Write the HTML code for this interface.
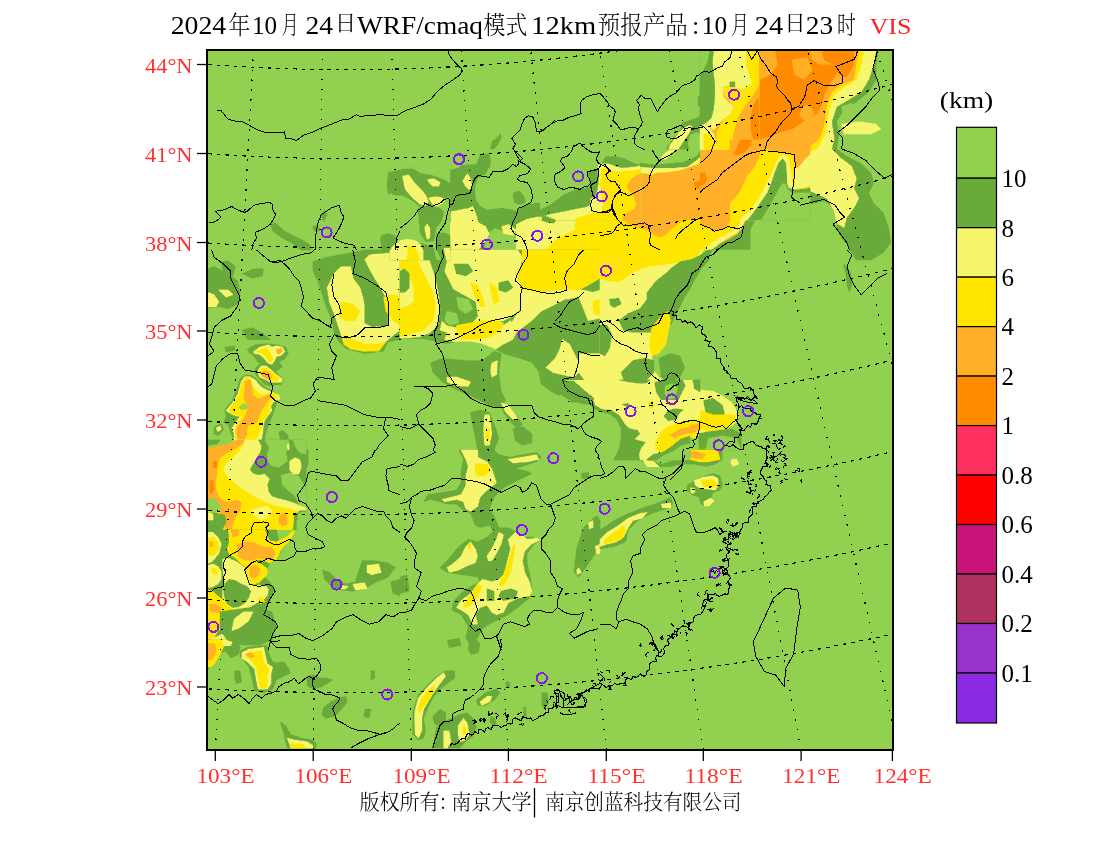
<!DOCTYPE html>
<html><head><meta charset="utf-8"><title>VIS</title>
<style>html,body{margin:0;padding:0;background:#fff;width:1100px;height:850px;overflow:hidden}svg{display:block}</style>
</head><body>
<svg width="1100" height="850" viewBox="0 0 1100 850">
<clipPath id="mc"><rect x="208" y="51" width="684" height="698"/></clipPath>
<rect x="207" y="50" width="686" height="700" fill="#92d050"/>
<g clip-path="url(#mc)" shape-rendering="crispEdges">
<polygon points="388.2,172.4 400.0,171.2 400.0,197.1 388.2,193.5 387.1,186.5" fill="#6aaa3a" stroke="#6aaa3a" stroke-width="0.6" stroke-linejoin="round"/>
<polygon points="270.6,224.1 275.3,222.9 284.7,231.2 294.1,235.9 303.5,240.6 310.6,245.3 310.6,250.0 301.2,250.0 291.8,242.9 282.4,238.2 272.9,231.2" fill="#6aaa3a" stroke="#6aaa3a" stroke-width="0.6" stroke-linejoin="round"/>
<polygon points="381.2,235.9 388.2,233.5 395.3,235.9 400.0,238.2 400.0,250.0 381.2,250.0" fill="#6aaa3a" stroke="#6aaa3a" stroke-width="0.6" stroke-linejoin="round"/>
<polygon points="321.2,214.7 324.7,210.0 327.1,214.7 323.5,221.8" fill="#6aaa3a" stroke="#6aaa3a" stroke-width="0.6" stroke-linejoin="round"/>
<polygon points="312.9,226.5 317.6,225.3 318.8,231.2 314.1,231.2" fill="#6aaa3a" stroke="#6aaa3a" stroke-width="0.6" stroke-linejoin="round"/>
<polygon points="391.8,245.3 400.0,242.9 400.0,250.0 391.8,250.0" fill="#f5f56e" stroke="#f5f56e" stroke-width="0.6" stroke-linejoin="round"/>
<polygon points="491.8,141.8 496.5,138.2 500.0,133.5 501.2,137.1 498.8,142.9 494.1,148.8 490.6,148.8" fill="#6aaa3a" stroke="#6aaa3a" stroke-width="0.6" stroke-linejoin="round"/>
<polygon points="481.2,155.9 488.2,153.5 490.6,160.6 489.4,167.6 482.4,165.3" fill="#6aaa3a" stroke="#6aaa3a" stroke-width="0.6" stroke-linejoin="round"/>
<polygon points="400.0,171.8 410.9,167.8 423.6,170.0 447.3,170.9 458.2,168.2 461.8,165.5 476.4,164.5 480.0,155.5 489.1,154.5 490.0,164.5 485.5,173.6 478.2,177.3 474.5,186.4 475.5,199.1 480.0,206.4 487.3,210.0 501.8,208.2 512.7,210.0 518.2,211.8 518.2,222.7 516.4,231.8 510.9,235.5 501.8,230.0 494.5,228.2 487.3,233.6 483.6,250.0 400.0,250.0" fill="#6aaa3a" stroke="#6aaa3a" stroke-width="0.6" stroke-linejoin="round"/>
<polygon points="518.2,210.0 527.3,204.5 541.8,202.7 554.5,197.3 567.3,191.8 581.8,188.2 590.9,182.7 600.0,180.9 600.0,215.5 581.8,217.3 563.6,215.5 549.1,217.3 541.8,219.1 527.3,222.7 518.2,226.4" fill="#6aaa3a" stroke="#6aaa3a" stroke-width="0.6" stroke-linejoin="round"/>
<polygon points="512.7,193.6 518.2,190.9 523.6,195.5 525.5,202.7 520.0,204.5 514.5,202.7" fill="#6aaa3a" stroke="#6aaa3a" stroke-width="0.6" stroke-linejoin="round"/>
<polygon points="403.6,175.5 410.9,175.5 418.2,180.9 423.6,191.8 425.5,199.1 421.8,202.7 414.5,200.9 407.3,195.5 403.6,186.4" fill="#f5f56e" stroke="#f5f56e" stroke-width="0.6" stroke-linejoin="round"/>
<polygon points="427.3,179.1 436.4,179.1 440.9,182.7 439.1,186.4 430.9,186.4 427.3,182.7" fill="#f5f56e" stroke="#f5f56e" stroke-width="0.6" stroke-linejoin="round"/>
<polygon points="462.7,180.9 467.3,173.6 470.9,179.1 471.8,186.4 469.1,190.0 465.5,186.4" fill="#f5f56e" stroke="#f5f56e" stroke-width="0.6" stroke-linejoin="round"/>
<polygon points="450.9,211.8 460.0,210.0 469.1,208.2 472.7,206.4 476.4,215.5 478.2,222.7 485.5,226.4 489.1,233.6 485.5,240.9 478.2,250.0 450.9,250.0 449.1,231.8 450.9,220.9" fill="#f5f56e" stroke="#f5f56e" stroke-width="0.6" stroke-linejoin="round"/>
<polygon points="423.6,226.4 429.1,224.5 430.0,237.3 425.5,240.9 423.6,235.5" fill="#f5f56e" stroke="#f5f56e" stroke-width="0.6" stroke-linejoin="round"/>
<polygon points="400.0,240.9 410.9,239.1 418.2,244.5 420.0,250.0 400.0,250.0" fill="#f5f56e" stroke="#f5f56e" stroke-width="0.6" stroke-linejoin="round"/>
<polygon points="501.8,226.4 509.1,224.5 516.4,230.0 512.7,235.5 503.6,233.6" fill="#f5f56e" stroke="#f5f56e" stroke-width="0.6" stroke-linejoin="round"/>
<polygon points="516.4,224.5 527.3,219.1 545.5,215.5 554.5,211.8 567.3,210.0 574.5,206.4 581.8,204.5 590.9,197.3 600.0,191.8 600.0,250.0 516.4,250.0" fill="#f5f56e" stroke="#f5f56e" stroke-width="0.6" stroke-linejoin="round"/>
<polygon points="576.4,219.1 587.3,217.3 600.0,216.4 600.0,250.0 545.5,250.0 554.5,240.9 563.6,235.5 574.5,230.0 578.2,224.5" fill="#ffe600" stroke="#ffe600" stroke-width="0.6" stroke-linejoin="round"/>
<polygon points="409.1,245.5 414.5,244.5 418.2,250.0 407.3,250.0" fill="#ffe600" stroke="#ffe600" stroke-width="0.6" stroke-linejoin="round"/>
<polygon points="682.4,122.9 689.4,120.6 696.5,118.2 700.0,115.9 700.0,150.0 665.9,150.0 670.6,141.8 676.5,134.7 681.2,127.6" fill="#6aaa3a" stroke="#6aaa3a" stroke-width="0.6" stroke-linejoin="round"/>
<polygon points="697.6,97.1 700.0,95.9 700.0,106.5 698.2,105.3" fill="#6aaa3a" stroke="#6aaa3a" stroke-width="0.6" stroke-linejoin="round"/>
<polygon points="678.8,132.4 684.7,127.6 689.4,125.3 691.8,126.5 689.4,132.4 684.7,139.4 680.0,146.5 677.6,150.0 668.2,150.0 670.6,144.1 675.3,138.2" fill="#f5f56e" stroke="#f5f56e" stroke-width="0.6" stroke-linejoin="round"/>
<polygon points="690.6,134.7 697.6,132.4 700.0,134.7 700.0,150.0 689.4,150.0 688.2,142.9" fill="#92d050" stroke="#92d050" stroke-width="0.6" stroke-linejoin="round"/>
<polygon points="700.0,50.0 800.0,50.0 800.0,150.0 700.0,150.0" fill="#ffaf28"/>
<polygon points="776.5,50.0 800.0,50.0 800.0,150.0 765.9,150.0 756.5,144.1 751.8,134.7 750.6,122.9 751.8,111.2 755.3,101.8 761.2,94.7 768.2,87.6 772.9,80.6 775.3,71.2 775.3,59.4" fill="#ff8c00" stroke="#ff8c00" stroke-width="0.6" stroke-linejoin="round"/>
<polygon points="790.6,70.0 796.5,67.6 800.0,68.8 800.0,78.2 792.9,78.2 789.4,74.7" fill="#ffaf28" stroke="#ffaf28" stroke-width="0.6" stroke-linejoin="round"/>
<polygon points="782.4,130.0 789.4,126.5 794.1,132.4 791.8,141.8 784.7,140.6" fill="#ffaf28" stroke="#ffaf28" stroke-width="0.6" stroke-linejoin="round"/>
<polygon points="744.7,50.0 765.9,50.0 765.9,61.8 764.7,73.5 761.2,82.9 756.5,88.8 751.8,97.1 747.1,102.9 741.2,111.2 737.6,118.2 735.3,126.5 732.9,134.7 731.8,150.0 717.6,150.0 716.5,132.4 723.5,120.6 729.4,114.7 732.9,106.5 729.4,99.4 725.9,97.1 722.4,88.8 728.2,86.5 735.3,87.6 742.4,85.3 744.7,79.4 745.9,67.6" fill="#ffe600" stroke="#ffe600" stroke-width="0.6" stroke-linejoin="round"/>
<polygon points="700.0,50.0 714.1,50.0 712.9,61.8 714.1,73.5 715.3,85.3 715.3,97.1 714.1,108.8 711.8,118.2 705.9,122.9 700.0,125.3" fill="#6aaa3a" stroke="#6aaa3a" stroke-width="0.6" stroke-linejoin="round"/>
<polygon points="700.0,50.0 709.4,50.0 707.1,61.8 702.4,71.2 700.0,73.5" fill="#92d050" stroke="#92d050" stroke-width="0.6" stroke-linejoin="round"/>
<polygon points="714.1,50.0 745.9,50.0 745.9,65.3 749.4,75.9 751.8,82.9 747.1,87.6 741.2,88.8 735.3,86.5 728.2,85.3 722.4,87.6 723.5,97.1 728.2,101.8 732.9,106.5 730.6,113.5 723.5,119.4 717.6,124.1 714.1,130.0 709.4,126.5 705.9,123.5 711.8,118.2 714.1,108.8 715.3,97.1 715.3,85.3 714.1,73.5 712.9,61.8" fill="#f5f56e" stroke="#f5f56e" stroke-width="0.6" stroke-linejoin="round"/>
<polygon points="730.0,81.8 734.7,81.8 734.7,86.5 730.0,86.5" fill="#6aaa3a" stroke="#6aaa3a" stroke-width="0.6" stroke-linejoin="round"/>
<polygon points="700.0,126.5 704.7,124.1 709.4,127.6 714.1,134.7 717.6,150.0 700.0,150.0" fill="#f5f56e" stroke="#f5f56e" stroke-width="0.6" stroke-linejoin="round"/>
<polygon points="703.5,134.7 709.4,132.4 714.1,139.4 716.5,150.0 704.7,150.0" fill="#ffe600" stroke="#ffe600" stroke-width="0.6" stroke-linejoin="round"/>
<polygon points="600.0,150.0 700.0,150.0 700.0,250.0 600.0,250.0" fill="#ffe600"/>
<polygon points="600.0,150.0 700.0,150.0 700.0,161.8 694.1,165.3 684.7,170.0 670.6,171.2 656.5,172.4 647.1,173.5 635.3,171.2 623.5,172.4 615.3,170.0 607.1,166.5 603.5,168.8 602.4,185.3 600.0,187.6" fill="#f5f56e" stroke="#f5f56e" stroke-width="0.6" stroke-linejoin="round"/>
<polygon points="600.0,150.0 700.0,150.0 700.0,157.1 694.1,161.8 687.1,166.5 675.3,167.6 661.2,167.6 651.8,167.6 641.2,166.5 629.4,167.6 617.6,166.5 609.4,164.1 603.5,165.3 600.0,167.6" fill="#6aaa3a" stroke="#6aaa3a" stroke-width="0.6" stroke-linejoin="round"/>
<polygon points="600.0,150.0 700.0,150.0 696.5,155.9 689.4,159.4 682.4,161.8 670.6,162.9 658.8,164.1 649.4,164.1 644.7,162.9 635.3,161.8 628.2,157.1 618.8,157.1 609.4,159.4 600.0,160.6" fill="#92d050" stroke="#92d050" stroke-width="0.6" stroke-linejoin="round"/>
<polygon points="661.2,157.1 665.9,152.4 670.6,150.0 675.3,150.0 670.6,154.7 665.9,159.4 662.4,159.4" fill="#f5f56e" stroke="#f5f56e" stroke-width="0.6" stroke-linejoin="round"/>
<polygon points="627.1,185.3 630.6,178.2 635.3,174.7 644.7,173.5 650.6,175.9 656.5,173.5 670.6,172.4 682.4,170.0 691.8,166.5 700.0,164.1 700.0,217.1 694.1,218.2 682.4,220.6 672.9,227.6 665.9,234.7 661.2,237.1 654.1,234.7 647.1,230.0 638.8,227.6 630.6,225.3 624.7,220.6 623.5,217.1 630.6,214.7 636.5,211.2 637.6,206.5 635.3,200.6 632.9,195.9 629.4,191.2" fill="#ffaf28" stroke="#ffaf28" stroke-width="0.6" stroke-linejoin="round"/>
<polygon points="694.1,182.9 700.0,180.6 700.0,188.8 695.3,187.6" fill="#ff8c00" stroke="#ff8c00" stroke-width="0.6" stroke-linejoin="round"/>
<polygon points="700.0,150.0 800.0,150.0 800.0,250.0 700.0,250.0" fill="#ffaf28"/>
<polygon points="758.8,150.0 782.4,150.0 782.4,157.1 776.5,164.1 771.8,173.5 767.1,184.1 761.2,192.4 755.3,199.4 749.4,206.5 744.7,213.5 741.2,220.6 737.6,226.5 731.8,232.4 723.5,235.9 715.3,240.6 709.4,245.3 704.7,250.0 700.0,250.0 700.0,225.3 707.1,227.1 715.3,231.2 723.5,228.8 728.2,225.3 730.6,220.6 731.8,213.5 731.8,205.3 734.1,198.2 738.8,191.2 743.5,185.3 744.7,177.1 748.2,172.4 755.3,167.6 758.8,161.8" fill="#ffe600" stroke="#ffe600" stroke-width="0.6" stroke-linejoin="round"/>
<polygon points="775.3,150.0 784.7,150.0 784.7,157.1 780.0,159.4 775.3,167.6 771.8,177.1 767.1,186.5 761.2,195.9 755.3,202.9 749.4,211.2 745.9,218.2 742.4,226.5 737.6,232.4 729.4,237.1 720.0,242.9 712.9,250.0 704.7,250.0 710.6,244.1 717.6,239.4 725.9,234.7 734.1,230.0 738.8,225.3 742.4,218.2 747.1,210.0 752.9,201.8 758.8,194.7 764.7,186.5 769.4,175.9 772.9,166.5 776.5,159.4" fill="#f5f56e" stroke="#f5f56e" stroke-width="0.6" stroke-linejoin="round"/>
<polygon points="780.0,159.4 782.4,158.2 784.7,160.6 786.5,170.0 785.9,180.6 787.1,188.8 791.8,190.6 800.0,190.6 800.0,250.0 711.8,250.0 720.0,244.1 729.4,239.4 737.6,234.7 742.4,228.8 745.9,220.6 749.4,212.4 755.3,204.1 761.2,197.1 767.1,188.8 771.8,179.4 775.3,168.8" fill="#6aaa3a" stroke="#6aaa3a" stroke-width="0.6" stroke-linejoin="round"/>
<polygon points="800.0,191.2 800.0,250.0 750.6,250.0 750.6,230.0 754.1,222.9 760.0,214.7 767.1,206.5 774.1,197.1 780.0,188.8 782.4,182.9 784.7,180.6 785.9,188.8 789.4,190.0" fill="#92d050" stroke="#92d050" stroke-width="0.6" stroke-linejoin="round"/>
<polygon points="784.7,150.0 800.0,150.0 800.0,188.8 791.8,189.4 788.2,187.6 787.6,173.5 787.1,161.8" fill="#f5f56e" stroke="#f5f56e" stroke-width="0.6" stroke-linejoin="round"/>
<polygon points="789.4,150.0 800.0,150.0 800.0,186.5 794.1,185.3 791.8,173.5 790.6,161.8" fill="#ffe600" stroke="#ffe600" stroke-width="0.6" stroke-linejoin="round"/>
<polygon points="794.1,150.0 800.0,150.0 800.0,167.6 796.5,164.1 795.3,155.9" fill="#ffaf28" stroke="#ffaf28" stroke-width="0.6" stroke-linejoin="round"/>
<polygon points="700.0,173.5 704.7,172.4 707.1,178.2 704.7,184.1 700.0,185.3" fill="#ff8c00" stroke="#ff8c00" stroke-width="0.6" stroke-linejoin="round"/>
<polygon points="800.0,50.0 877.6,50.0 876.5,59.4 870.6,73.5 868.2,87.6 863.5,99.4 856.5,108.8 847.1,118.2 837.6,130.0 836.5,141.8 840.0,151.2 854.1,160.6 865.9,167.6 875.3,177.1 880.0,191.2 884.7,200.6 889.4,214.7 892.0,228.8 892.0,250.0 837.6,250.0 835.3,228.8 830.6,214.7 821.2,200.6 809.4,193.5 800.0,191.2" fill="#6aaa3a" stroke="#6aaa3a" stroke-width="0.6" stroke-linejoin="round"/>
<polygon points="881.2,50.0 892.0,50.0 892.0,177.1 884.7,178.2 877.6,170.0 868.2,160.6 858.8,153.5 847.1,148.8 842.4,144.1 851.8,142.9 865.9,144.1 877.6,142.9 887.1,139.4 889.4,130.0 882.4,120.6 872.9,113.5 870.6,106.5 877.6,97.1 882.4,87.6 880.0,73.5" fill="#92d050" stroke="#92d050" stroke-width="0.6" stroke-linejoin="round"/>
<polygon points="800.0,191.2 809.4,193.5 821.2,200.6 830.6,214.7 835.3,228.8 837.6,250.0 800.0,250.0" fill="#92d050" stroke="#92d050" stroke-width="0.6" stroke-linejoin="round"/>
<polygon points="844.7,104.1 854.1,101.8 861.2,106.5 858.8,115.9 849.4,118.2 844.7,113.5" fill="#92d050" stroke="#92d050" stroke-width="0.6" stroke-linejoin="round"/>
<polygon points="800.0,50.0 858.8,50.0 861.2,64.1 860.0,78.2 854.1,90.0 844.7,97.1 835.3,104.1 832.9,120.6 830.6,132.4 832.9,144.1 835.3,153.5 844.7,160.6 851.8,167.6 858.8,181.8 856.5,195.9 854.1,210.0 851.8,219.4 847.1,228.8 840.0,228.8 837.6,214.7 830.6,200.6 818.8,193.5 807.1,188.8 800.0,188.8" fill="#f5f56e" stroke="#f5f56e" stroke-width="0.6" stroke-linejoin="round"/>
<polygon points="837.6,127.6 847.1,122.9 858.8,120.6 872.9,122.9 880.0,127.6 877.6,134.7 868.2,139.4 851.8,141.8 840.0,144.1" fill="#f5f56e" stroke="#f5f56e" stroke-width="0.6" stroke-linejoin="round"/>
<polygon points="800.0,50.0 857.6,50.0 856.5,64.1 851.8,80.6 842.4,90.0 835.3,97.1 832.9,111.2 828.2,125.3 830.6,139.4 832.9,158.2 842.4,167.6 847.1,181.8 842.4,188.8 830.6,191.2 823.5,186.5 814.1,184.1 800.0,184.1" fill="#ffe600" stroke="#ffe600" stroke-width="0.6" stroke-linejoin="round"/>
<polygon points="800.0,50.0 856.5,50.0 851.8,64.1 847.1,80.6 837.6,90.0 830.6,101.8 825.9,115.9 821.2,127.6 814.1,139.4 807.1,155.9 800.0,162.9" fill="#ffaf28" stroke="#ffaf28" stroke-width="0.6" stroke-linejoin="round"/>
<polygon points="807.1,50.0 854.1,50.0 856.5,57.1 847.1,64.1 837.6,68.8 842.4,78.2 835.3,87.6 832.9,101.8 830.6,113.5 825.9,120.6 814.1,122.9 804.7,120.6 800.0,115.9 800.0,78.2 804.7,64.1" fill="#ff8c00" stroke="#ff8c00" stroke-width="0.6" stroke-linejoin="round"/>
<polygon points="835.3,66.5 856.5,64.1 856.5,85.3 844.7,87.6 837.6,80.6" fill="#ffaf28" stroke="#ffaf28" stroke-width="0.6" stroke-linejoin="round"/>
<polygon points="312.9,261.8 327.1,257.1 341.2,254.7 352.9,252.4 364.7,250.0 400.0,250.0 400.0,339.4 388.2,341.8 383.5,351.2 364.7,353.5 345.9,348.8 338.8,341.8 334.1,332.4 331.8,320.6 327.1,308.8 322.4,294.7 317.6,280.6 312.9,271.2" fill="#6aaa3a" stroke="#6aaa3a" stroke-width="0.6" stroke-linejoin="round"/>
<polygon points="208.0,268.8 214.1,266.5 223.5,271.2 230.6,275.9 237.6,280.6 240.0,292.4 237.6,304.1 228.2,308.8 218.8,306.5 208.0,307.6" fill="#6aaa3a" stroke="#6aaa3a" stroke-width="0.6" stroke-linejoin="round"/>
<polygon points="221.2,261.8 228.2,260.6 235.3,266.5 232.9,275.9 223.5,273.5" fill="#6aaa3a" stroke="#6aaa3a" stroke-width="0.6" stroke-linejoin="round"/>
<polygon points="242.4,273.5 254.1,268.8 263.5,268.8 262.4,275.9 251.8,278.2" fill="#6aaa3a" stroke="#6aaa3a" stroke-width="0.6" stroke-linejoin="round"/>
<polygon points="242.4,330.0 251.8,327.6 261.2,332.4 270.6,339.4 268.2,344.1 258.8,341.8 247.1,339.4" fill="#6aaa3a" stroke="#6aaa3a" stroke-width="0.6" stroke-linejoin="round"/>
<polygon points="249.4,348.8 261.2,344.1 275.3,344.1 284.7,346.5 284.7,355.9 280.0,365.3 284.7,377.1 280.0,384.1 270.6,386.5 261.2,381.8 254.1,372.4 256.5,360.6" fill="#6aaa3a" stroke="#6aaa3a" stroke-width="0.6" stroke-linejoin="round"/>
<polygon points="235.3,381.8 247.1,374.7 261.2,372.4 270.6,381.8 275.3,391.2 282.4,398.2 280.0,405.3 270.6,410.0 268.2,421.8 270.6,438.2 275.3,450.0 225.9,450.0 214.1,438.2 214.1,424.1 223.5,414.7 225.9,402.9" fill="#6aaa3a" stroke="#6aaa3a" stroke-width="0.6" stroke-linejoin="round"/>
<polygon points="277.6,431.2 284.7,428.8 289.4,438.2 287.1,450.0 275.3,450.0" fill="#6aaa3a" stroke="#6aaa3a" stroke-width="0.6" stroke-linejoin="round"/>
<polygon points="327.1,287.6 334.1,273.5 341.2,266.5 350.6,266.5 352.9,278.2 360.0,287.6 364.7,304.1 364.7,318.2 369.4,325.3 383.5,327.6 388.2,325.3 388.2,306.5 385.9,297.1 378.8,285.3 369.4,268.8 364.7,259.4 369.4,254.7 400.0,252.4 400.0,330.0 388.2,339.4 378.8,348.8 364.7,351.2 350.6,348.8 343.5,341.8 338.8,327.6 334.1,313.5 329.4,301.8" fill="#f5f56e" stroke="#f5f56e" stroke-width="0.6" stroke-linejoin="round"/>
<polygon points="362.4,275.9 369.4,273.5 378.8,285.3 383.5,301.8 381.2,318.2 374.1,327.6 364.7,322.9 364.7,304.1 362.4,287.6" fill="#6aaa3a" stroke="#6aaa3a" stroke-width="0.6" stroke-linejoin="round"/>
<polygon points="341.2,301.8 352.9,304.1 360.0,311.2 355.3,320.6 345.9,320.6 338.8,315.9" fill="#ffe600" stroke="#ffe600" stroke-width="0.6" stroke-linejoin="round"/>
<polygon points="383.5,297.1 392.9,294.7 400.0,297.1 400.0,325.3 392.9,320.6 385.9,311.2" fill="#ffe600" stroke="#ffe600" stroke-width="0.6" stroke-linejoin="round"/>
<polygon points="343.5,334.7 352.9,339.4 364.7,344.1 378.8,344.1 385.9,341.8 378.8,351.2 364.7,351.2 350.6,348.8 343.5,344.1" fill="#ffe600" stroke="#ffe600" stroke-width="0.6" stroke-linejoin="round"/>
<polygon points="208.0,292.4 214.1,294.7 218.8,301.8 216.5,306.5 208.0,306.5" fill="#f5f56e" stroke="#f5f56e" stroke-width="0.6" stroke-linejoin="round"/>
<polygon points="218.8,290.0 228.2,290.0 232.9,294.7 225.9,297.1" fill="#f5f56e" stroke="#f5f56e" stroke-width="0.6" stroke-linejoin="round"/>
<polygon points="254.1,351.2 263.5,346.5 270.6,345.3 277.6,346.5 280.0,353.5 270.6,360.6 275.3,365.3 277.6,370.0 270.6,372.4 265.9,367.6 261.2,358.2 256.5,355.9" fill="#f5f56e" stroke="#f5f56e" stroke-width="0.6" stroke-linejoin="round"/>
<polygon points="275.3,348.8 282.4,347.6 283.5,353.5 277.6,354.7" fill="#ffaf28" stroke="#ffaf28" stroke-width="0.6" stroke-linejoin="round"/>
<polygon points="258.8,367.6 268.2,367.6 277.6,377.1 280.0,381.8 272.9,381.8 265.9,377.1 258.8,374.7" fill="#ffe600" stroke="#ffe600" stroke-width="0.6" stroke-linejoin="round"/>
<polygon points="261.2,372.4 268.2,371.2 272.9,377.1 268.2,380.6 262.4,378.2" fill="#ffaf28" stroke="#ffaf28" stroke-width="0.6" stroke-linejoin="round"/>
<polygon points="228.2,405.3 235.3,391.2 242.4,379.4 249.4,377.1 261.2,381.8 265.9,391.2 270.6,398.2 277.6,395.9 281.2,400.6 270.6,402.9 265.9,414.7 263.5,428.8 268.2,438.2 263.5,450.0 230.6,450.0 235.3,438.2 232.9,424.1 228.2,414.7" fill="#f5f56e" stroke="#f5f56e" stroke-width="0.6" stroke-linejoin="round"/>
<polygon points="232.9,405.3 240.0,391.2 244.7,381.8 251.8,381.8 258.8,391.2 265.9,395.9 265.9,410.0 261.2,419.4 258.8,433.5 256.5,450.0 232.9,450.0 235.3,433.5 237.6,419.4" fill="#ffe600" stroke="#ffe600" stroke-width="0.6" stroke-linejoin="round"/>
<polygon points="237.6,414.7 244.7,395.9 249.4,388.8 254.1,393.5 256.5,402.9 263.5,405.3 261.2,414.7 256.5,424.1 251.8,433.5 247.1,450.0 235.3,450.0 237.6,433.5 242.4,424.1" fill="#ffaf28" stroke="#ffaf28" stroke-width="0.6" stroke-linejoin="round"/>
<polygon points="400.0,250.0 600.0,250.0 600.0,395.9 583.5,388.8 564.7,381.8 550.6,374.7 538.8,372.4 531.8,362.9 517.6,358.2 503.5,353.5 494.1,348.8 482.4,344.1 470.6,341.8 458.8,341.8 447.1,344.1 435.3,341.8 423.5,339.4 400.0,339.4" fill="#6aaa3a" stroke="#6aaa3a" stroke-width="0.6" stroke-linejoin="round"/>
<polygon points="400.0,250.0 425.9,250.0 430.6,264.1 435.3,278.2 438.8,297.1 440.0,311.2 437.6,325.3 430.6,332.4 418.8,337.1 400.0,338.2" fill="#f5f56e" stroke="#f5f56e" stroke-width="0.6" stroke-linejoin="round"/>
<polygon points="400.0,250.0 414.1,250.0 418.8,264.1 425.9,278.2 432.9,292.4 435.3,306.5 432.9,320.6 423.5,330.0 409.4,334.7 400.0,335.9 400.0,308.8 407.1,306.5 414.1,301.8 414.1,287.6 409.4,275.9 404.7,271.2 400.0,268.8" fill="#ffe600" stroke="#ffe600" stroke-width="0.6" stroke-linejoin="round"/>
<polygon points="400.0,271.2 404.7,268.8 409.4,273.5 409.4,287.6 404.7,292.4 400.0,292.4" fill="#6aaa3a" stroke="#6aaa3a" stroke-width="0.6" stroke-linejoin="round"/>
<polygon points="442.4,250.0 517.6,250.0 522.4,257.1 520.0,268.8 517.6,278.2 522.4,287.6 522.4,306.5 512.9,315.9 503.5,320.6 494.1,322.9 482.4,325.3 470.6,327.6 458.8,330.0 447.1,332.4 440.0,330.0 442.4,320.6 447.1,313.5 442.4,301.8 447.1,297.1 454.1,290.0 449.4,280.6 444.7,271.2 447.1,261.8" fill="#f5f56e" stroke="#f5f56e" stroke-width="0.6" stroke-linejoin="round"/>
<polygon points="454.1,264.1 468.2,264.1 472.9,271.2 465.9,275.9 456.5,273.5" fill="#6aaa3a" stroke="#6aaa3a" stroke-width="0.6" stroke-linejoin="round"/>
<polygon points="498.8,282.9 508.2,280.6 512.9,287.6 505.9,292.4 498.8,290.0" fill="#6aaa3a" stroke="#6aaa3a" stroke-width="0.6" stroke-linejoin="round"/>
<polygon points="442.4,290.0 454.1,290.0 475.3,301.8 477.6,315.9 470.6,325.3 458.8,327.6 447.1,325.3 440.0,318.2" fill="#6aaa3a" stroke="#6aaa3a" stroke-width="0.6" stroke-linejoin="round"/>
<polygon points="447.1,311.2 456.5,313.5 458.8,322.9 449.4,325.3 444.7,320.6" fill="#92d050" stroke="#92d050" stroke-width="0.6" stroke-linejoin="round"/>
<polygon points="456.5,297.1 468.2,299.4 472.9,308.8 465.9,313.5 458.8,308.8" fill="#92d050" stroke="#92d050" stroke-width="0.6" stroke-linejoin="round"/>
<polygon points="470.6,282.9 477.6,285.3 482.4,297.1 484.7,306.5 480.0,306.5 475.3,297.1" fill="#ffe600" stroke="#ffe600" stroke-width="0.6" stroke-linejoin="round"/>
<polygon points="489.4,282.9 496.5,287.6 498.8,301.8 494.1,304.1 491.8,294.7" fill="#ffe600" stroke="#ffe600" stroke-width="0.6" stroke-linejoin="round"/>
<polygon points="447.1,332.4 458.8,330.0 503.5,325.3 510.6,320.6 517.6,330.0 512.9,339.4 503.5,344.1 496.5,348.8 489.4,351.2 477.6,344.1 465.9,344.1 454.1,341.8 444.7,339.4" fill="#f5f56e" stroke="#f5f56e" stroke-width="0.6" stroke-linejoin="round"/>
<polygon points="456.5,325.3 470.6,322.9 482.4,320.6 494.1,320.6 503.5,322.9 501.2,330.0 489.4,337.1 475.3,339.4 461.2,339.4 456.5,332.4" fill="#ffe600" stroke="#ffe600" stroke-width="0.6" stroke-linejoin="round"/>
<polygon points="522.4,250.0 600.0,250.0 600.0,278.2 588.2,285.3 578.8,290.0 564.7,290.0 550.6,292.4 536.5,297.1 527.1,299.4 522.4,292.4 520.0,282.9 517.6,273.5 522.4,264.1" fill="#ffe600" stroke="#ffe600" stroke-width="0.6" stroke-linejoin="round"/>
<polygon points="522.4,290.0 541.2,292.4 564.7,290.0 583.5,290.0 592.9,292.4 600.0,290.0 600.0,318.2 588.2,320.6 583.5,308.8 578.8,297.1 564.7,299.4 550.6,306.5 541.2,311.2 531.8,320.6 522.4,327.6 512.9,334.7 503.5,341.8 496.5,348.8 494.1,339.4 503.5,330.0 512.9,320.6 520.0,308.8 522.4,301.8" fill="#f5f56e" stroke="#f5f56e" stroke-width="0.6" stroke-linejoin="round"/>
<polygon points="592.9,301.8 600.0,299.4 600.0,315.9 594.1,313.5" fill="#ffe600" stroke="#ffe600" stroke-width="0.6" stroke-linejoin="round"/>
<polygon points="562.4,339.4 569.4,344.1 574.1,353.5 578.8,362.9 583.5,367.6 578.8,372.4 574.1,377.1 562.4,374.7 552.9,372.4 545.9,367.6 555.3,358.2 560.0,348.8" fill="#f5f56e" stroke="#f5f56e" stroke-width="0.6" stroke-linejoin="round"/>
<polygon points="578.8,353.5 600.0,353.5 600.0,391.2 592.9,391.2 585.9,381.8 578.8,372.4 578.8,362.9" fill="#f5f56e" stroke="#f5f56e" stroke-width="0.6" stroke-linejoin="round"/>
<polygon points="400.0,339.4 423.5,339.4 435.3,341.8 447.1,344.1 458.8,341.8 470.6,341.8 482.4,344.1 494.1,348.8 498.8,353.5 503.5,355.9 517.6,358.2 531.8,362.9 538.8,372.4 550.6,374.7 564.7,381.8 583.5,388.8 600.0,395.9 600.0,450.0 400.0,450.0" fill="#92d050" stroke="#92d050" stroke-width="0.6" stroke-linejoin="round"/>
<polygon points="430.6,362.9 442.4,358.2 465.9,360.6 482.4,360.6 494.1,351.2 501.2,353.5 498.8,372.4 501.2,391.2 505.9,400.6 498.8,407.6 489.4,405.3 470.6,395.9 454.1,388.8 442.4,381.8 432.9,372.4" fill="#6aaa3a" stroke="#6aaa3a" stroke-width="0.6" stroke-linejoin="round"/>
<polygon points="538.8,372.4 550.6,374.7 564.7,381.8 583.5,388.8 600.0,395.9 600.0,414.7 588.2,412.4 578.8,405.3 569.4,400.6 560.0,395.9 550.6,391.2 541.2,384.1" fill="#6aaa3a" stroke="#6aaa3a" stroke-width="0.6" stroke-linejoin="round"/>
<polygon points="470.6,412.4 480.0,410.0 489.4,412.4 494.1,424.1 498.8,438.2 494.1,450.0 477.6,450.0 475.3,438.2 472.9,426.5" fill="#6aaa3a" stroke="#6aaa3a" stroke-width="0.6" stroke-linejoin="round"/>
<polygon points="512.9,428.8 522.4,426.5 531.8,433.5 531.8,442.9 522.4,445.3 515.3,440.6" fill="#6aaa3a" stroke="#6aaa3a" stroke-width="0.6" stroke-linejoin="round"/>
<polygon points="498.8,400.6 505.9,405.3 515.3,414.7 522.4,424.1 517.6,428.8 510.6,421.8 503.5,412.4" fill="#6aaa3a" stroke="#6aaa3a" stroke-width="0.6" stroke-linejoin="round"/>
<polygon points="484.7,414.7 489.4,414.7 491.8,433.5 489.4,445.3 484.7,445.3 483.5,428.8" fill="#f5f56e" stroke="#f5f56e" stroke-width="0.6" stroke-linejoin="round"/>
<polygon points="485.9,428.8 489.4,428.8 489.4,440.6 485.9,440.6" fill="#ffe600" stroke="#ffe600" stroke-width="0.6" stroke-linejoin="round"/>
<polygon points="447.1,377.1 456.5,377.1 470.6,381.8 468.2,386.5 454.1,385.3 447.1,381.8" fill="#f5f56e" stroke="#f5f56e" stroke-width="0.6" stroke-linejoin="round"/>
<polygon points="491.8,362.9 497.6,360.6 496.5,374.7 491.8,377.1 490.6,370.0" fill="#f5f56e" stroke="#f5f56e" stroke-width="0.6" stroke-linejoin="round"/>
<polygon points="501.2,402.9 508.2,405.3 515.3,414.7 517.6,419.4 512.9,419.4 505.9,412.4" fill="#f5f56e" stroke="#f5f56e" stroke-width="0.6" stroke-linejoin="round"/>
<polygon points="600.0,250.0 703.5,250.0 698.8,259.4 689.4,271.2 682.4,282.9 675.3,297.1 670.6,308.8 665.9,320.6 661.2,332.4 656.5,344.1 651.8,355.9 651.8,367.6 658.8,377.1 670.6,386.5 689.4,391.2 708.2,391.2 722.4,395.9 731.8,402.9 738.8,414.7 734.1,424.1 722.4,428.8 705.9,431.2 694.1,438.2 694.1,450.0 600.0,450.0" fill="#f5f56e" stroke="#f5f56e" stroke-width="0.6" stroke-linejoin="round"/>
<polygon points="600.0,250.0 701.2,250.0 696.5,257.1 682.4,261.8 665.9,264.1 647.1,266.5 635.3,271.2 628.2,275.9 618.8,281.8 607.1,280.6 600.0,278.2" fill="#ffe600" stroke="#ffe600" stroke-width="0.6" stroke-linejoin="round"/>
<polygon points="670.6,268.8 680.0,261.8 691.8,259.4 701.2,254.7 708.2,250.0 717.6,250.0 710.6,259.4 701.2,268.8 694.1,280.6 689.4,290.0 684.7,297.1 680.0,306.5 675.3,315.9 670.6,325.3 663.5,330.0 654.1,332.4 642.4,332.4 632.9,332.4 623.5,330.0 618.8,320.6 628.2,313.5 640.0,308.8 647.1,299.4 654.1,287.6 661.2,278.2" fill="#6aaa3a" stroke="#6aaa3a" stroke-width="0.6" stroke-linejoin="round"/>
<polygon points="647.1,292.4 656.5,280.6 665.9,273.5 670.6,275.9 668.2,287.6 658.8,299.4 651.8,306.5 647.1,301.8" fill="#6aaa3a" stroke="#6aaa3a" stroke-width="0.6" stroke-linejoin="round"/>
<polygon points="609.4,299.4 618.8,298.2 621.2,304.1 614.1,307.6 610.6,305.3" fill="#6aaa3a" stroke="#6aaa3a" stroke-width="0.6" stroke-linejoin="round"/>
<polygon points="651.8,327.6 661.2,315.9 668.2,311.2 670.6,320.6 668.2,332.4 665.9,344.1 658.8,353.5 651.8,355.9 649.4,344.1" fill="#ffe600" stroke="#ffe600" stroke-width="0.6" stroke-linejoin="round"/>
<polygon points="600.0,325.3 607.1,325.3 611.8,334.7 609.4,348.8 604.7,355.9 600.0,353.5" fill="#6aaa3a" stroke="#6aaa3a" stroke-width="0.6" stroke-linejoin="round"/>
<polygon points="621.2,372.4 632.9,360.6 644.7,358.2 654.1,360.6 654.1,372.4 647.1,379.4 635.3,381.8 623.5,379.4" fill="#6aaa3a" stroke="#6aaa3a" stroke-width="0.6" stroke-linejoin="round"/>
<polygon points="712.9,250.0 800.0,250.0 800.0,450.0 745.9,450.0 741.2,433.5 738.8,419.4 736.5,410.0 731.8,400.6 722.4,395.9 710.6,391.2 698.8,388.8 684.7,386.5 672.9,384.1 663.5,379.4 658.8,372.4 661.2,360.6 668.2,353.5 677.6,348.8 682.4,341.8 680.0,332.4 677.6,322.9 682.4,308.8 689.4,294.7 694.1,285.3 701.2,273.5 708.2,261.8" fill="#92d050" stroke="#92d050" stroke-width="0.6" stroke-linejoin="round"/>
<polygon points="658.8,358.2 670.6,353.5 680.0,355.9 684.7,367.6 680.0,377.1 670.6,381.8 661.2,377.1" fill="#6aaa3a" stroke="#6aaa3a" stroke-width="0.6" stroke-linejoin="round"/>
<polygon points="665.9,388.8 684.7,388.8 698.8,390.0 712.9,391.2 722.4,395.9 731.8,402.9 738.8,414.7 736.5,421.8 727.1,428.8 712.9,431.2 701.2,431.2 689.4,428.8 677.6,424.1 670.6,414.7 663.5,402.9" fill="#f5f56e" stroke="#f5f56e" stroke-width="0.6" stroke-linejoin="round"/>
<polygon points="703.5,400.6 712.9,398.2 722.4,405.3 724.7,414.7 715.3,417.1 705.9,412.4" fill="#6aaa3a" stroke="#6aaa3a" stroke-width="0.6" stroke-linejoin="round"/>
<polygon points="675.3,412.4 684.7,410.0 689.4,419.4 680.0,421.8" fill="#6aaa3a" stroke="#6aaa3a" stroke-width="0.6" stroke-linejoin="round"/>
<polygon points="689.4,412.4 698.8,410.0 712.9,414.7 727.1,414.7 736.5,414.7 734.1,424.1 722.4,428.8 710.6,431.2 698.8,428.8 691.8,424.1" fill="#ffe600" stroke="#ffe600" stroke-width="0.6" stroke-linejoin="round"/>
<polygon points="663.5,428.8 675.3,424.1 689.4,421.8 698.8,428.8 694.1,438.2 680.0,442.9 668.2,445.3 661.2,440.6" fill="#ffe600" stroke="#ffe600" stroke-width="0.6" stroke-linejoin="round"/>
<polygon points="670.6,433.5 680.0,428.8 694.1,426.5 696.5,431.2 684.7,435.9 672.9,438.2" fill="#ffaf28" stroke="#ffaf28" stroke-width="0.6" stroke-linejoin="round"/>
<polygon points="600.0,407.6 616.5,405.3 630.6,410.0 640.0,419.4 647.1,433.5 649.4,450.0 600.0,450.0" fill="#6aaa3a" stroke="#6aaa3a" stroke-width="0.6" stroke-linejoin="round"/>
<polygon points="600.0,412.4 614.1,410.0 625.9,414.7 632.9,424.1 640.0,435.9 642.4,450.0 600.0,450.0" fill="#92d050" stroke="#92d050" stroke-width="0.6" stroke-linejoin="round"/>
<polygon points="698.8,433.5 712.9,431.2 731.8,428.8 741.2,433.5 741.2,450.0 698.8,450.0" fill="#6aaa3a" stroke="#6aaa3a" stroke-width="0.6" stroke-linejoin="round"/>
<polygon points="672.9,445.3 682.4,438.2 694.1,438.2 698.8,445.3 698.8,450.0 670.6,450.0" fill="#92d050" stroke="#92d050" stroke-width="0.6" stroke-linejoin="round"/>
<polygon points="708.2,438.2 722.4,435.9 736.5,438.2 741.2,450.0 705.9,450.0" fill="#92d050" stroke="#92d050" stroke-width="0.6" stroke-linejoin="round"/>
<polygon points="843.5,264.1 847.1,266.5 850.6,273.5 851.8,285.3 849.4,292.4 847.1,285.3 845.9,273.5" fill="#6aaa3a" stroke="#6aaa3a" stroke-width="0.6" stroke-linejoin="round"/>
<polygon points="208.0,450.0 308.2,450.0 308.2,464.1 303.5,475.9 305.9,487.6 298.8,497.1 305.9,506.5 298.8,515.9 296.5,530.0 291.8,541.8 280.0,551.2 272.9,560.6 270.6,572.4 272.9,586.5 270.6,598.2 265.9,614.7 258.8,626.5 254.1,638.2 249.4,650.0 208.0,650.0" fill="#6aaa3a" stroke="#6aaa3a" stroke-width="0.6" stroke-linejoin="round"/>
<polygon points="268.2,450.0 289.4,450.0 291.8,459.4 287.1,468.8 275.3,468.8 268.2,461.8" fill="#92d050" stroke="#92d050" stroke-width="0.6" stroke-linejoin="round"/>
<polygon points="228.2,595.9 237.6,591.2 249.4,593.5 256.5,602.9 251.8,614.7 242.4,619.4 232.9,614.7 225.9,605.3" fill="#92d050" stroke="#92d050" stroke-width="0.6" stroke-linejoin="round"/>
<polygon points="235.3,624.1 247.1,621.8 261.2,624.1 263.5,638.2 258.8,650.0 232.9,650.0 230.6,638.2" fill="#92d050" stroke="#92d050" stroke-width="0.6" stroke-linejoin="round"/>
<polygon points="208.0,450.0 258.8,450.0 251.8,457.1 247.1,466.5 249.4,473.5 261.2,475.9 270.6,480.6 280.0,487.6 289.4,494.7 298.8,499.4 305.9,506.5 298.8,513.5 294.1,527.6 289.4,539.4 280.0,548.8 270.6,553.5 258.8,560.6 251.8,567.6 247.1,572.4 237.6,572.4 228.2,567.6 221.2,562.9 214.1,560.6 208.0,562.9" fill="#f5f56e" stroke="#f5f56e" stroke-width="0.6" stroke-linejoin="round"/>
<polygon points="289.4,459.4 296.5,457.1 301.2,464.1 298.8,473.5 291.8,473.5" fill="#f5f56e" stroke="#f5f56e" stroke-width="0.6" stroke-linejoin="round"/>
<polygon points="208.0,562.9 218.8,560.6 225.9,567.6 232.9,574.7 247.1,577.1 258.8,581.8 268.2,581.8 268.2,595.9 263.5,605.3 256.5,600.6 247.1,591.2 235.3,588.8 225.9,591.2 218.8,586.5 208.0,586.5" fill="#f5f56e" stroke="#f5f56e" stroke-width="0.6" stroke-linejoin="round"/>
<polygon points="208.0,459.4 223.5,457.1 232.9,464.1 240.0,478.2 251.8,487.6 263.5,494.7 277.6,501.8 289.4,506.5 296.5,511.2 294.1,525.3 289.4,537.1 277.6,544.1 270.6,548.8 265.9,558.2 261.2,562.9 256.5,567.6 247.1,570.0 240.0,565.3 232.9,560.6 223.5,553.5 214.1,548.8 208.0,548.8" fill="#ffe600" stroke="#ffe600" stroke-width="0.6" stroke-linejoin="round"/>
<polygon points="208.0,454.7 216.5,450.0 228.2,450.0 225.9,459.4 218.8,468.8 216.5,480.6 214.1,494.7 208.0,497.1" fill="#ffaf28" stroke="#ffaf28" stroke-width="0.6" stroke-linejoin="round"/>
<polygon points="208.0,464.1 214.1,461.8 216.5,473.5 214.1,485.3 208.0,487.6" fill="#ff8c00" stroke="#ff8c00" stroke-width="0.6" stroke-linejoin="round"/>
<polygon points="223.5,508.8 230.6,506.5 237.6,515.9 240.0,530.0 237.6,539.4 232.9,539.4 228.2,530.0 223.5,520.6" fill="#ffaf28" stroke="#ffaf28" stroke-width="0.6" stroke-linejoin="round"/>
<polygon points="237.6,544.1 244.7,541.8 254.1,544.1 261.2,546.5 270.6,548.8 275.3,553.5 270.6,558.2 261.2,558.2 251.8,560.6 244.7,560.6 237.6,555.9" fill="#ffaf28" stroke="#ffaf28" stroke-width="0.6" stroke-linejoin="round"/>
<polygon points="277.6,515.9 284.7,513.5 288.2,520.6 284.7,525.3 278.8,522.9" fill="#ffaf28" stroke="#ffaf28" stroke-width="0.6" stroke-linejoin="round"/>
<polygon points="247.1,567.6 256.5,565.3 261.2,572.4 258.8,581.8 251.8,581.8 247.1,574.7" fill="#ffaf28" stroke="#ffaf28" stroke-width="0.6" stroke-linejoin="round"/>
<polygon points="208.0,586.5 216.5,588.8 223.5,595.9 228.2,605.3 230.6,614.7 225.9,624.1 218.8,628.8 214.1,638.2 208.0,640.6" fill="#ffe600" stroke="#ffe600" stroke-width="0.6" stroke-linejoin="round"/>
<polygon points="208.0,600.6 214.1,600.6 218.8,607.6 216.5,619.4 208.0,621.8" fill="#ffaf28" stroke="#ffaf28" stroke-width="0.6" stroke-linejoin="round"/>
<polygon points="214.1,638.2 223.5,633.5 232.9,638.2 237.6,650.0 208.0,650.0 208.0,640.6" fill="#f5f56e" stroke="#f5f56e" stroke-width="0.6" stroke-linejoin="round"/>
<polygon points="208.0,539.4 214.1,541.8 214.1,551.2 208.0,551.2" fill="#ffaf28" stroke="#ffaf28" stroke-width="0.6" stroke-linejoin="round"/>
<polygon points="322.4,570.0 329.4,572.4 336.5,579.4 345.9,584.1 355.3,581.8 362.4,560.6 374.1,560.6 388.2,562.9 395.3,567.6 388.2,577.1 376.5,581.8 364.7,588.8 352.9,591.2 341.2,590.0 331.8,586.5 324.7,579.4" fill="#6aaa3a" stroke="#6aaa3a" stroke-width="0.6" stroke-linejoin="round"/>
<polygon points="367.1,565.3 378.8,564.1 381.2,572.4 371.8,574.7 367.1,572.4" fill="#f5f56e" stroke="#f5f56e" stroke-width="0.6" stroke-linejoin="round"/>
<polygon points="352.9,584.1 364.7,582.9 367.1,588.8 355.3,590.0" fill="#f5f56e" stroke="#f5f56e" stroke-width="0.6" stroke-linejoin="round"/>
<polygon points="341.2,585.3 348.2,586.5 345.9,588.8 340.0,588.8" fill="#f5f56e" stroke="#f5f56e" stroke-width="0.6" stroke-linejoin="round"/>
<polygon points="390.6,581.8 400.0,579.4 400.0,595.9 392.9,593.5" fill="#6aaa3a" stroke="#6aaa3a" stroke-width="0.6" stroke-linejoin="round"/>
<polygon points="458.8,450.0 494.1,450.0 498.8,454.7 510.6,457.1 522.4,454.7 536.5,452.4 541.2,457.1 536.5,461.8 522.4,466.5 515.3,468.8 527.1,471.2 531.8,473.5 522.4,478.2 512.9,482.9 503.5,487.6 494.1,497.1 489.4,508.8 494.1,515.9 498.8,527.6 501.2,530.0 494.1,532.4 489.4,525.3 480.0,527.6 475.3,525.3 470.6,513.5 465.9,511.2 461.2,508.8 456.5,504.1 447.1,504.1 440.0,501.8 430.6,499.4 423.5,501.8 428.2,494.7 442.4,492.4 456.5,490.0 461.2,482.9 461.2,471.2 463.5,459.4" fill="#6aaa3a" stroke="#6aaa3a" stroke-width="0.6" stroke-linejoin="round"/>
<polygon points="447.1,572.4 440.0,567.6 447.1,560.6 458.8,546.5 468.2,539.4 477.6,541.8 487.1,537.1 494.1,530.0 498.8,527.6 508.2,527.6 512.9,530.0 517.6,532.4 524.7,537.1 531.8,537.1 541.2,539.4 534.1,544.1 527.1,553.5 527.1,562.9 529.4,572.4 531.8,586.5 529.4,598.2 517.6,607.6 508.2,614.7 498.8,619.4 489.4,624.1 482.4,628.8 477.6,638.2 470.6,645.3 465.9,638.2 468.2,626.5 461.2,614.7 451.8,610.0 454.1,600.6 463.5,591.2 470.6,586.5 480.0,581.8 477.6,577.1" fill="#6aaa3a" stroke="#6aaa3a" stroke-width="0.6" stroke-linejoin="round"/>
<polygon points="576.5,548.8 583.5,527.6 592.9,518.2 597.6,515.9 600.0,520.6 600.0,544.1 595.3,553.5 585.9,567.6 578.8,577.1 574.1,572.4" fill="#6aaa3a" stroke="#6aaa3a" stroke-width="0.6" stroke-linejoin="round"/>
<polygon points="400.0,577.1 407.1,574.7 409.4,591.2 400.0,593.5" fill="#6aaa3a" stroke="#6aaa3a" stroke-width="0.6" stroke-linejoin="round"/>
<polygon points="447.1,640.6 458.8,638.2 461.2,645.3 449.4,647.6" fill="#6aaa3a" stroke="#6aaa3a" stroke-width="0.6" stroke-linejoin="round"/>
<polygon points="581.2,473.5 588.2,472.4 590.6,478.2 582.4,478.2" fill="#6aaa3a" stroke="#6aaa3a" stroke-width="0.6" stroke-linejoin="round"/>
<polygon points="461.2,450.0 477.6,450.0 477.6,457.1 487.1,461.8 491.8,468.8 494.1,475.9 496.5,482.9 487.1,490.0 480.0,497.1 477.6,506.5 470.6,511.2 465.9,508.8 463.5,501.8 456.5,499.4 444.7,501.8 442.4,499.4 451.8,497.1 461.2,494.7 465.9,485.3 465.9,475.9 468.2,466.5 465.9,459.4" fill="#f5f56e" stroke="#f5f56e" stroke-width="0.6" stroke-linejoin="round"/>
<polygon points="508.2,459.4 522.4,457.1 536.5,454.7 538.8,459.4 527.1,461.8 512.9,462.9" fill="#f5f56e" stroke="#f5f56e" stroke-width="0.6" stroke-linejoin="round"/>
<polygon points="447.1,567.6 454.1,562.9 461.2,555.9 465.9,546.5 470.6,541.8 475.3,548.8 477.6,555.9 475.3,562.9 468.2,565.3 458.8,570.0 449.4,572.4" fill="#f5f56e" stroke="#f5f56e" stroke-width="0.6" stroke-linejoin="round"/>
<polygon points="487.1,555.9 491.8,548.8 496.5,539.4 498.8,532.4 503.5,534.7 501.2,544.1 496.5,553.5 491.8,560.6 488.2,560.6" fill="#f5f56e" stroke="#f5f56e" stroke-width="0.6" stroke-linejoin="round"/>
<polygon points="508.2,539.4 515.3,532.4 522.4,534.7 527.1,539.4 536.5,538.2 541.2,539.4 531.8,544.1 524.7,551.2 522.4,560.6 524.7,572.4 529.4,581.8 531.8,591.2 529.4,595.9 517.6,598.2 508.2,602.9 503.5,612.4 496.5,614.7 491.8,612.4 487.1,605.3 480.0,607.6 475.3,614.7 477.6,624.1 472.9,624.1 468.2,614.7 461.2,610.0 456.5,607.6 461.2,600.6 470.6,593.5 477.6,584.1 482.4,579.4 491.8,581.8 498.8,579.4 503.5,574.7 505.9,567.6 508.2,558.2 510.6,548.8" fill="#f5f56e" stroke="#f5f56e" stroke-width="0.6" stroke-linejoin="round"/>
<polygon points="501.2,591.2 510.6,588.8 517.6,591.2 515.3,598.2 503.5,600.6 498.8,595.9" fill="#6aaa3a" stroke="#6aaa3a" stroke-width="0.6" stroke-linejoin="round"/>
<polygon points="487.1,588.8 494.1,591.2 494.1,600.6 487.1,600.6" fill="#6aaa3a" stroke="#6aaa3a" stroke-width="0.6" stroke-linejoin="round"/>
<polygon points="588.2,522.9 592.9,520.6 592.9,527.6 589.4,528.8" fill="#f5f56e" stroke="#f5f56e" stroke-width="0.6" stroke-linejoin="round"/>
<polygon points="595.3,546.5 600.0,544.1 600.0,553.5 596.5,553.5" fill="#f5f56e" stroke="#f5f56e" stroke-width="0.6" stroke-linejoin="round"/>
<polygon points="576.5,570.0 578.8,567.6 581.2,572.4 577.6,574.7" fill="#f5f56e" stroke="#f5f56e" stroke-width="0.6" stroke-linejoin="round"/>
<polygon points="475.3,464.1 487.1,464.1 489.4,471.2 484.7,475.9 477.6,475.9 475.3,471.2" fill="#ffe600" stroke="#ffe600" stroke-width="0.6" stroke-linejoin="round"/>
<polygon points="512.9,546.5 515.3,544.1 512.9,560.6 510.6,572.4 505.9,581.8 501.2,586.5 498.8,584.1 503.5,574.7 508.2,562.9" fill="#ffe600" stroke="#ffe600" stroke-width="0.6" stroke-linejoin="round"/>
<polygon points="477.6,584.1 482.4,586.5 477.6,595.9 470.6,605.3 463.5,607.6 465.9,600.6 472.9,591.2" fill="#ffe600" stroke="#ffe600" stroke-width="0.6" stroke-linejoin="round"/>
<polygon points="468.2,544.1 470.6,541.8 470.6,548.8 468.2,547.6" fill="#ffe600" stroke="#ffe600" stroke-width="0.6" stroke-linejoin="round"/>
<polygon points="614.1,450.0 640.0,450.0 647.1,459.4 661.2,464.1 670.6,461.8 677.6,454.7 682.4,450.0 722.4,450.0 722.4,459.4 715.3,464.1 705.9,466.5 694.1,464.1 682.4,464.1 670.6,466.5 658.8,466.5 647.1,464.1 640.0,459.4 628.2,457.1 618.8,457.1 614.1,454.7" fill="#6aaa3a" stroke="#6aaa3a" stroke-width="0.6" stroke-linejoin="round"/>
<polygon points="640.0,450.0 670.6,450.0 665.9,457.1 654.1,459.4 647.1,457.1" fill="#f5f56e" stroke="#f5f56e" stroke-width="0.6" stroke-linejoin="round"/>
<polygon points="642.4,459.4 654.1,461.8 658.8,466.5 647.1,466.5" fill="#f5f56e" stroke="#f5f56e" stroke-width="0.6" stroke-linejoin="round"/>
<polygon points="682.4,450.0 717.6,450.0 720.0,459.4 708.2,461.8 698.8,461.8 689.4,459.4 683.5,457.1" fill="#ffe600" stroke="#ffe600" stroke-width="0.6" stroke-linejoin="round"/>
<polygon points="687.1,452.4 694.1,451.2 705.9,454.7 701.2,459.4 691.8,457.1" fill="#ffaf28" stroke="#ffaf28" stroke-width="0.6" stroke-linejoin="round"/>
<polygon points="731.8,459.4 736.5,459.4 738.8,464.1 732.9,466.5 730.6,462.9" fill="#f5f56e" stroke="#f5f56e" stroke-width="0.6" stroke-linejoin="round"/>
<polygon points="687.1,485.3 698.8,478.2 712.9,473.5 720.0,475.9 722.4,485.3 720.0,490.0 712.9,492.4 710.6,499.4 712.9,504.1 705.9,506.5 701.2,504.1 698.8,497.1 691.8,494.7 687.1,490.0" fill="#6aaa3a" stroke="#6aaa3a" stroke-width="0.6" stroke-linejoin="round"/>
<polygon points="694.1,480.6 703.5,477.1 712.9,475.9 717.6,478.2 718.8,485.3 715.3,490.0 705.9,488.8 698.8,487.6 695.3,485.3" fill="#f5f56e" stroke="#f5f56e" stroke-width="0.6" stroke-linejoin="round"/>
<polygon points="701.2,480.6 712.9,479.4 717.6,485.3 712.9,487.6 703.5,486.5" fill="#ffe600" stroke="#ffe600" stroke-width="0.6" stroke-linejoin="round"/>
<polygon points="703.5,501.8 710.6,498.2 714.1,500.6 710.6,505.3 704.7,506.5" fill="#f5f56e" stroke="#f5f56e" stroke-width="0.6" stroke-linejoin="round"/>
<polygon points="690.6,487.6 695.3,488.8 694.1,493.5 690.6,492.4" fill="#f5f56e" stroke="#f5f56e" stroke-width="0.6" stroke-linejoin="round"/>
<polygon points="600.0,530.0 614.1,520.6 628.2,513.5 647.1,506.5 661.2,501.8 670.6,497.1 672.9,504.1 665.9,508.8 651.8,513.5 637.6,520.6 628.2,530.0 625.9,541.8 614.1,546.5 600.0,548.8" fill="#6aaa3a" stroke="#6aaa3a" stroke-width="0.6" stroke-linejoin="round"/>
<polygon points="600.0,539.4 607.1,532.4 618.8,525.3 628.2,518.2 640.0,513.5 647.1,512.4 642.4,518.2 632.9,520.6 628.2,527.6 623.5,537.1 616.5,541.8 607.1,544.1 600.0,546.5" fill="#f5f56e" stroke="#f5f56e" stroke-width="0.6" stroke-linejoin="round"/>
<polygon points="604.7,539.4 614.1,532.4 623.5,525.3 625.9,530.0 621.2,539.4 611.8,541.8 604.7,544.1" fill="#ffe600" stroke="#ffe600" stroke-width="0.6" stroke-linejoin="round"/>
<polygon points="661.2,504.1 670.6,502.9 670.6,507.6 662.4,507.6" fill="#f5f56e" stroke="#f5f56e" stroke-width="0.6" stroke-linejoin="round"/>
<polygon points="208.0,640.0 236.4,640.0 240.0,647.3 238.2,654.5 230.9,658.2 225.5,650.9 218.2,654.5 210.9,667.3 208.0,669.1" fill="#6aaa3a" stroke="#6aaa3a" stroke-width="0.6" stroke-linejoin="round"/>
<polygon points="208.0,640.0 227.3,640.0 223.6,647.3 220.0,654.5 214.5,663.6 210.9,667.3 208.0,667.3" fill="#ffe600" stroke="#ffe600" stroke-width="0.6" stroke-linejoin="round"/>
<polygon points="208.0,643.6 214.5,643.6 216.4,650.9 212.7,658.2 209.1,660.0 208.0,660.0" fill="#ffaf28" stroke="#ffaf28" stroke-width="0.6" stroke-linejoin="round"/>
<polygon points="221.8,640.0 232.7,640.0 230.9,645.5 223.6,645.5" fill="#f5f56e" stroke="#f5f56e" stroke-width="0.6" stroke-linejoin="round"/>
<polygon points="240.0,650.9 247.3,647.3 260.0,645.5 267.3,645.5 269.1,654.5 272.7,661.8 280.0,663.6 287.3,667.3 290.9,672.7 283.6,676.4 276.4,680.0 272.7,689.1 263.6,692.7 254.5,690.9 252.7,681.8 249.1,667.3 243.6,660.0 240.0,656.4" fill="#6aaa3a" stroke="#6aaa3a" stroke-width="0.6" stroke-linejoin="round"/>
<polygon points="241.8,652.7 249.1,649.1 263.6,647.3 265.5,656.4 267.3,663.6 272.7,667.3 270.9,674.5 270.9,683.6 267.3,689.1 258.2,689.1 256.4,680.0 254.5,669.1 247.3,661.8 241.8,658.2" fill="#f5f56e" stroke="#f5f56e" stroke-width="0.6" stroke-linejoin="round"/>
<polygon points="247.3,652.7 261.8,650.9 263.6,661.8 269.1,669.1 267.3,676.4 267.3,687.3 260.0,688.2 258.2,678.2 256.4,667.3 250.9,660.0 245.5,656.4" fill="#ffe600" stroke="#ffe600" stroke-width="0.6" stroke-linejoin="round"/>
<polygon points="245.5,654.5 250.9,652.7 254.5,656.4 250.9,658.2" fill="#ffaf28" stroke="#ffaf28" stroke-width="0.6" stroke-linejoin="round"/>
<polygon points="272.7,663.6 283.6,661.8 289.1,669.1 285.5,674.5 278.2,674.5 274.5,670.9" fill="#6aaa3a" stroke="#6aaa3a" stroke-width="0.6" stroke-linejoin="round"/>
<polygon points="307.3,676.4 312.7,674.5 320.0,678.2 327.3,678.2 332.7,680.0 327.3,683.6 320.0,687.3 312.7,689.1 307.3,685.5" fill="#6aaa3a" stroke="#6aaa3a" stroke-width="0.6" stroke-linejoin="round"/>
<polygon points="234.5,670.9 240.0,670.9 241.8,681.8 236.4,683.6 234.5,678.2" fill="#6aaa3a" stroke="#6aaa3a" stroke-width="0.6" stroke-linejoin="round"/>
<polygon points="323.6,707.3 330.9,701.8 338.2,698.2 345.5,696.4 347.3,701.8 341.8,709.1 334.5,716.4 325.5,718.2 321.8,714.5" fill="#6aaa3a" stroke="#6aaa3a" stroke-width="0.6" stroke-linejoin="round"/>
<polygon points="280.0,721.8 285.5,725.5 290.9,734.5 301.8,738.2 312.7,740.0 316.4,743.6 316.4,748.0 287.3,748.0 285.5,741.8 283.6,732.7" fill="#6aaa3a" stroke="#6aaa3a" stroke-width="0.6" stroke-linejoin="round"/>
<polygon points="287.3,738.2 294.5,740.0 307.3,741.8 312.7,745.5 312.7,748.0 290.9,748.0" fill="#f5f56e" stroke="#f5f56e" stroke-width="0.6" stroke-linejoin="round"/>
<polygon points="290.9,743.6 301.8,743.6 305.5,748.0 290.9,748.0" fill="#ffe600" stroke="#ffe600" stroke-width="0.6" stroke-linejoin="round"/>
<polygon points="370.9,670.9 374.5,670.9 374.5,678.2 370.9,680.0" fill="#6aaa3a" stroke="#6aaa3a" stroke-width="0.6" stroke-linejoin="round"/>
<polygon points="365.5,709.1 370.9,709.1 369.1,718.2 363.6,716.4" fill="#6aaa3a" stroke="#6aaa3a" stroke-width="0.6" stroke-linejoin="round"/>
<polygon points="412.7,712.7 418.2,694.5 427.3,685.5 436.4,676.4 445.5,670.9 454.5,670.9 454.5,678.2 447.3,683.6 440.0,689.1 432.7,698.2 427.3,709.1 423.6,718.2 425.5,730.9 423.6,738.2 418.2,740.0 412.7,734.5 412.7,723.6" fill="#6aaa3a" stroke="#6aaa3a" stroke-width="0.6" stroke-linejoin="round"/>
<polygon points="414.5,712.7 418.2,698.2 427.3,687.3 436.4,678.2 443.6,672.7 445.5,676.4 440.0,683.6 434.5,690.9 429.1,700.0 423.6,709.1 421.8,718.2 421.8,730.9 418.2,738.2 415.5,734.5 414.5,723.6" fill="#f5f56e" stroke="#f5f56e" stroke-width="0.6" stroke-linejoin="round"/>
<polygon points="418.2,709.1 421.8,698.2 429.1,689.1 434.5,685.5 432.7,692.7 427.3,701.8 421.8,709.1 420.0,712.7" fill="#ffe600" stroke="#ffe600" stroke-width="0.6" stroke-linejoin="round"/>
<polygon points="476.4,700.0 485.5,692.7 496.4,689.1 500.0,692.7 494.5,700.0 485.5,705.5 478.2,705.5" fill="#6aaa3a" stroke="#6aaa3a" stroke-width="0.6" stroke-linejoin="round"/>
<polygon points="480.0,701.8 487.3,696.4 491.8,696.4 490.0,701.8 481.8,705.5" fill="#f5f56e" stroke="#f5f56e" stroke-width="0.6" stroke-linejoin="round"/>
<polygon points="432.7,716.4 440.0,709.1 445.5,712.7 445.5,721.8 438.2,725.5 434.5,723.6" fill="#6aaa3a" stroke="#6aaa3a" stroke-width="0.6" stroke-linejoin="round"/>
<polygon points="469.1,643.6 476.4,640.0 480.0,643.6 478.2,652.7 470.9,654.5 468.2,649.1" fill="#6aaa3a" stroke="#6aaa3a" stroke-width="0.6" stroke-linejoin="round"/>
<polygon points="449.1,641.8 456.4,641.8 456.4,645.5 450.0,645.5" fill="#6aaa3a" stroke="#6aaa3a" stroke-width="0.6" stroke-linejoin="round"/>
<polygon points="436.4,727.3 447.3,720.0 460.0,714.5 467.3,712.7 472.7,718.2 476.4,727.3 472.7,736.4 465.5,741.8 460.0,748.0 432.7,748.0 434.5,738.2" fill="#6aaa3a" stroke="#6aaa3a" stroke-width="0.6" stroke-linejoin="round"/>
<polygon points="443.6,730.9 449.1,730.9 450.9,741.8 447.3,748.0 443.6,748.0 443.6,740.0" fill="#f5f56e" stroke="#f5f56e" stroke-width="0.6" stroke-linejoin="round"/>
<polygon points="458.2,725.5 463.6,718.2 467.3,723.6 469.1,734.5 465.5,740.0 460.0,741.8 458.2,734.5" fill="#f5f56e" stroke="#f5f56e" stroke-width="0.6" stroke-linejoin="round"/>
<polygon points="463.6,725.5 465.5,727.3 466.4,732.7 463.6,734.5 462.7,730.9" fill="#ffe600" stroke="#ffe600" stroke-width="0.6" stroke-linejoin="round"/>
<polygon points="490.9,716.4 494.5,718.2 496.4,723.6 492.7,725.5 490.0,721.8" fill="#6aaa3a" stroke="#6aaa3a" stroke-width="0.6" stroke-linejoin="round"/>
<polygon points="505.5,681.8 509.1,681.8 510.0,687.3 506.4,687.3" fill="#6aaa3a" stroke="#6aaa3a" stroke-width="0.6" stroke-linejoin="round"/>
<polygon points="541.8,692.7 547.3,692.7 548.2,703.6 544.5,709.1 541.8,705.5" fill="#6aaa3a" stroke="#6aaa3a" stroke-width="0.6" stroke-linejoin="round"/>
<polygon points="523.6,707.3 525.5,707.3 526.4,716.4 523.6,716.4" fill="#6aaa3a" stroke="#6aaa3a" stroke-width="0.6" stroke-linejoin="round"/>
<polygon points="540.0,120.0 640.0,120.0 640.0,220.0 540.0,220.0" fill="#92d050"/>
<polygon points="540.0,210.0 551.8,204.0 563.5,194.9 575.3,190.0 587.1,188.2 590.6,187.1 589.4,178.8 587.1,171.8 596.5,169.4 601.2,164.7 605.9,156.5 615.3,156.5 624.7,158.8 634.1,163.5 640.0,164.7 640.0,220.0 540.0,220.0" fill="#6aaa3a" stroke="#6aaa3a" stroke-width="0.6" stroke-linejoin="round"/>
<polygon points="598.8,164.7 605.9,163.5 610.6,164.7 616.5,167.1 622.4,168.2 634.1,167.1 640.0,165.9 640.0,220.0 540.0,220.0 540.0,217.6 551.8,214.1 563.5,211.8 575.3,209.4 587.1,207.1 590.6,204.7 590.6,198.8 595.3,197.6 597.6,190.6 598.8,183.5 598.8,176.5 597.6,169.4" fill="#f5f56e" stroke="#f5f56e" stroke-width="0.6" stroke-linejoin="round"/>
<polygon points="601.2,169.4 605.9,168.2 610.6,170.6 616.5,171.8 622.4,171.8 629.4,170.6 634.1,170.6 640.0,169.4 640.0,220.0 575.3,220.0 578.8,217.6 587.1,215.3 594.1,212.9 601.2,211.8 603.5,204.7 602.4,200.0 601.2,190.6 600.0,183.5 601.2,176.5" fill="#ffe600" stroke="#ffe600" stroke-width="0.6" stroke-linejoin="round"/>
<polygon points="627.1,185.9 631.8,178.8 636.5,175.3 640.0,174.1 640.0,220.0 622.4,220.0 624.7,214.1 634.1,209.4 636.5,204.7 634.1,196.5 629.4,190.6" fill="#ffaf28" stroke="#ffaf28" stroke-width="0.6" stroke-linejoin="round"/>
<polygon points="206.0,340.0 306.0,340.0 306.0,440.0 206.0,440.0" fill="#92d050"/>
<polygon points="224.8,347.1 234.2,345.9 235.4,349.4 229.5,351.8 226.0,351.8" fill="#6aaa3a" stroke="#6aaa3a" stroke-width="0.6" stroke-linejoin="round"/>
<polygon points="247.2,349.4 255.4,344.7 267.2,343.5 276.6,344.7 286.0,347.1 288.4,354.1 283.6,360.0 278.9,361.2 282.5,367.1 276.6,370.6 271.9,369.4 267.2,367.1 262.5,364.7 257.8,362.4 253.1,355.3 249.5,352.9" fill="#6aaa3a" stroke="#6aaa3a" stroke-width="0.6" stroke-linejoin="round"/>
<polygon points="224.8,409.4 231.9,401.2 236.6,389.4 240.1,378.8 244.8,375.3 250.7,375.3 256.6,378.8 261.3,383.5 264.8,387.1 269.5,389.4 274.2,391.8 278.9,396.5 276.6,403.5 274.2,410.6 271.9,417.6 269.5,422.4 267.2,429.4 264.8,436.5 264.8,440.0 234.2,440.0 230.7,432.9 228.4,424.7 223.6,422.4 226.0,416.5" fill="#6aaa3a" stroke="#6aaa3a" stroke-width="0.6" stroke-linejoin="round"/>
<polygon points="255.4,368.2 260.1,363.5 267.2,364.7 274.2,369.4 278.9,375.3 283.6,378.8 281.3,384.7 275.4,384.7 270.7,385.9 264.8,384.7 258.9,378.8 255.4,374.1" fill="#6aaa3a" stroke="#6aaa3a" stroke-width="0.6" stroke-linejoin="round"/>
<polygon points="278.9,431.8 283.6,430.6 288.4,436.5 288.4,440.0 280.1,440.0" fill="#6aaa3a" stroke="#6aaa3a" stroke-width="0.6" stroke-linejoin="round"/>
<polygon points="214.2,427.1 221.3,423.5 223.6,429.4 218.9,435.3 214.2,434.1" fill="#6aaa3a" stroke="#6aaa3a" stroke-width="0.6" stroke-linejoin="round"/>
<polygon points="253.1,351.8 260.1,347.1 268.4,344.7 271.9,347.1 276.6,345.9 282.5,347.1 284.8,351.8 281.3,355.3 276.6,356.5 274.2,361.2 271.9,364.7 267.2,362.4 263.6,357.6 258.9,354.1 254.2,353.5" fill="#f5f56e" stroke="#f5f56e" stroke-width="0.6" stroke-linejoin="round"/>
<polygon points="255.4,351.8 261.3,349.4 267.2,348.2 269.5,351.8 271.9,356.5 273.1,360.0 270.7,362.4 267.2,360.0 264.8,355.3 261.3,352.9" fill="#ffe600" stroke="#ffe600" stroke-width="0.6" stroke-linejoin="round"/>
<polygon points="276.6,349.4 281.3,348.2 282.5,351.8 278.9,354.1 276.6,352.9" fill="#ffaf28" stroke="#ffaf28" stroke-width="0.6" stroke-linejoin="round"/>
<polygon points="257.8,370.6 261.3,365.9 266.0,365.9 270.7,369.4 274.2,372.9 278.9,376.5 282.5,378.8 281.3,382.4 276.6,382.4 271.9,382.4 268.4,381.2 263.6,378.8 258.9,376.5" fill="#f5f56e" stroke="#f5f56e" stroke-width="0.6" stroke-linejoin="round"/>
<polygon points="258.9,371.8 262.5,368.2 267.2,368.2 271.9,371.8 275.4,375.3 278.9,377.6 277.8,381.2 273.1,381.2 269.5,380.0 264.8,377.6 260.1,375.3" fill="#ffe600" stroke="#ffe600" stroke-width="0.6" stroke-linejoin="round"/>
<polygon points="261.3,372.9 264.8,370.6 269.5,372.9 271.9,377.6 269.5,380.0 266.0,378.8 262.5,376.5" fill="#ffaf28" stroke="#ffaf28" stroke-width="0.6" stroke-linejoin="round"/>
<polygon points="226.0,410.6 231.9,403.5 237.8,394.1 241.3,381.2 244.8,376.5 249.5,376.5 255.4,380.0 261.3,387.1 268.4,390.6 274.2,392.9 278.9,395.3 280.1,398.8 274.2,401.2 270.7,405.9 271.9,410.6 268.4,415.3 264.8,420.0 263.6,424.7 262.5,434.1 261.3,440.0 234.2,440.0 234.2,434.1 231.9,428.2 235.4,422.4 240.1,416.5 234.2,415.3 229.5,412.9" fill="#f5f56e" stroke="#f5f56e" stroke-width="0.6" stroke-linejoin="round"/>
<polygon points="229.5,409.4 234.2,402.4 238.9,395.3 241.3,384.7 244.8,377.6 249.5,377.6 253.1,387.1 257.8,392.9 262.5,395.3 269.5,392.9 274.2,394.1 278.9,397.6 271.9,401.2 269.5,405.9 269.5,411.8 266.0,416.5 262.5,421.2 261.3,427.1 258.9,434.1 255.4,440.0 235.4,440.0 235.4,429.4 237.8,422.4 242.5,416.5 235.4,415.3 230.7,412.9" fill="#ffe600" stroke="#ffe600" stroke-width="0.6" stroke-linejoin="round"/>
<polygon points="244.8,381.2 250.7,380.0 251.9,387.1 253.1,395.3 257.8,398.8 262.5,397.6 267.2,395.3 270.7,394.1 271.9,396.5 267.2,401.2 264.8,405.9 261.3,410.6 258.9,416.5 256.6,422.4 253.1,424.7 250.7,430.6 247.2,434.1 243.6,440.0 237.8,440.0 236.6,431.8 237.8,425.9 241.3,422.4 244.8,416.5 247.2,410.6 246.0,403.5 243.6,396.5 244.8,389.4" fill="#ffaf28" stroke="#ffaf28" stroke-width="0.6" stroke-linejoin="round"/>
<polygon points="248.4,425.9 255.4,424.7 256.6,430.6 251.9,434.1 247.2,432.9" fill="#ffe600" stroke="#ffe600" stroke-width="0.6" stroke-linejoin="round"/>
<polygon points="238.9,407.1 243.6,403.5 247.2,405.9 246.0,409.4 241.3,409.4" fill="#92d050" stroke="#92d050" stroke-width="0.6" stroke-linejoin="round"/>
<polygon points="216.0,428.2 220.1,425.9 221.3,429.4 217.8,431.8" fill="#f5f56e" stroke="#f5f56e" stroke-width="0.6" stroke-linejoin="round"/>
<polygon points="206.0,440.0 306.0,440.0 306.0,540.0 206.0,540.0" fill="#ffe600"/>
<polygon points="257.8,440.0 306.0,440.0 306.0,505.9 300.1,505.9 295.4,503.5 288.4,501.2 278.9,498.8 271.9,496.5 268.4,491.8 267.2,484.7 269.5,478.8 264.8,474.1 257.8,475.3 250.7,471.8 248.4,468.2 253.1,463.5 256.6,457.6 260.1,451.8 261.3,445.9" fill="#6aaa3a" stroke="#6aaa3a" stroke-width="0.6" stroke-linejoin="round"/>
<polygon points="264.8,440.0 288.4,440.0 289.5,445.9 286.0,451.8 287.2,461.2 278.9,467.1 271.9,465.9 268.4,462.4 267.2,454.1 269.5,447.1" fill="#92d050" stroke="#92d050" stroke-width="0.6" stroke-linejoin="round"/>
<polygon points="281.3,475.3 290.7,472.9 298.9,476.5 303.6,484.7 306.0,487.1 306.0,505.9 300.1,505.9 295.4,496.5 288.4,490.6 282.5,484.7" fill="#92d050" stroke="#92d050" stroke-width="0.6" stroke-linejoin="round"/>
<polygon points="293.1,440.0 306.0,440.0 306.0,454.1 300.1,452.9 295.4,447.1" fill="#92d050" stroke="#92d050" stroke-width="0.6" stroke-linejoin="round"/>
<polygon points="289.5,461.2 295.4,457.6 300.1,460.0 301.3,467.1 298.9,474.1 293.1,474.1 289.5,469.4" fill="#f5f56e" stroke="#f5f56e" stroke-width="0.6" stroke-linejoin="round"/>
<polygon points="287.2,444.7 288.9,444.1 289.5,449.4 287.8,450.0" fill="#f5f56e" stroke="#f5f56e" stroke-width="0.6" stroke-linejoin="round"/>
<polygon points="234.2,440.0 257.8,440.0 261.3,445.9 260.1,451.8 256.6,457.6 253.1,463.5 249.5,469.4 253.1,474.1 258.9,475.3 264.8,474.1 269.5,478.8 267.2,484.7 268.4,491.8 271.9,496.5 278.9,498.8 288.4,501.2 295.4,503.5 300.1,505.9 306.0,508.2 306.0,510.6 297.8,510.6 288.4,508.2 276.6,505.9 267.2,502.4 258.9,498.8 250.7,494.1 243.6,489.4 235.4,483.5 228.4,477.6 223.6,470.6 226.0,463.5 233.1,457.6 240.1,450.6 243.6,444.7 244.8,440.0" fill="#f5f56e" stroke="#f5f56e" stroke-width="0.6" stroke-linejoin="round"/>
<polygon points="250.7,510.6 256.6,508.2 267.2,505.9 271.9,510.6 268.4,516.5 261.3,520.0 255.4,516.5" fill="#f5f56e" stroke="#f5f56e" stroke-width="0.6" stroke-linejoin="round"/>
<polygon points="208.0,447.1 213.1,447.1 220.1,444.7 229.5,443.5 236.6,440.0 244.8,440.0 241.3,444.7 234.2,449.4 227.2,452.9 220.1,457.6 217.8,463.5 216.6,475.3 215.4,487.1 217.8,494.1 220.1,498.8 227.2,502.4 236.6,500.0 241.3,502.4 240.1,510.6 236.6,515.3 233.1,522.4 231.9,529.4 233.1,540.0 226.0,540.0 226.0,531.8 224.8,522.4 223.6,516.5 217.8,510.6 213.1,505.9 208.0,504.7" fill="#ffaf28" stroke="#ffaf28" stroke-width="0.6" stroke-linejoin="round"/>
<polygon points="213.1,461.2 216.6,461.2 217.2,467.1 214.2,468.2 213.1,465.9" fill="#ff8c00" stroke="#ff8c00" stroke-width="0.6" stroke-linejoin="round"/>
<polygon points="209.5,481.2 213.1,480.0 214.2,489.4 210.7,494.1 209.5,489.4" fill="#ff8c00" stroke="#ff8c00" stroke-width="0.6" stroke-linejoin="round"/>
<polygon points="278.9,516.5 283.6,512.9 287.2,516.5 287.2,524.7 282.5,525.9 278.9,522.4" fill="#ffaf28" stroke="#ffaf28" stroke-width="0.6" stroke-linejoin="round"/>
<polygon points="208.0,440.0 234.2,440.0 229.5,443.5 220.1,444.7 213.1,447.1 208.0,447.1" fill="#92d050" stroke="#92d050" stroke-width="0.6" stroke-linejoin="round"/>
<polygon points="208.0,440.0 220.1,440.0 217.8,443.5 210.7,444.7 208.0,444.7" fill="#6aaa3a" stroke="#6aaa3a" stroke-width="0.6" stroke-linejoin="round"/>
<polygon points="208.0,498.8 215.4,498.8 220.1,505.9 220.1,510.6 214.2,512.9 208.0,510.6" fill="#92d050" stroke="#92d050" stroke-width="0.6" stroke-linejoin="round"/>
<polygon points="208.0,512.9 215.4,512.9 224.8,515.3 226.0,522.4 222.5,529.4 216.6,531.8 213.1,540.0 208.0,540.0" fill="#6aaa3a" stroke="#6aaa3a" stroke-width="0.6" stroke-linejoin="round"/>
<polygon points="208.4,512.9 213.1,514.1 213.1,520.0 208.4,520.0" fill="#f5f56e" stroke="#f5f56e" stroke-width="0.6" stroke-linejoin="round"/>
<polygon points="294.2,515.3 300.1,510.6 306.0,510.6 306.0,540.0 290.7,540.0 293.1,529.4 294.2,522.4" fill="#6aaa3a" stroke="#6aaa3a" stroke-width="0.6" stroke-linejoin="round"/>
<polygon points="298.9,512.9 306.0,511.8 306.0,540.0 297.8,540.0 296.6,524.7" fill="#92d050" stroke="#92d050" stroke-width="0.6" stroke-linejoin="round"/>
<polygon points="542.7,215.6 546.5,216.5 555.9,220.3 554.0,223.1 546.5,222.1 541.8,220.3" fill="#6aaa3a" stroke="#6aaa3a" stroke-width="0.6" stroke-linejoin="round"/>
<polygon points="576.6,218.4 584.2,217.0 590.0,216.5 590.0,240.0 555.9,240.0 565.3,235.3 576.6,231.6 574.7,225.9" fill="#ffe600" stroke="#ffe600" stroke-width="0.6" stroke-linejoin="round"/>
<polygon points="513.5,195.8 520.1,191.1 523.9,197.7 523.0,203.3 518.2,201.4" fill="#6aaa3a" stroke="#6aaa3a" stroke-width="0.6" stroke-linejoin="round"/>
<polygon points="389.9,168.0 450.0,168.0 450.0,260.0 389.9,260.0" fill="#92d050"/>
<polygon points="390.8,172.0 402.5,169.4 412.8,168.8 420.6,173.3 433.6,175.9 443.9,179.8 450.0,183.7 450.0,196.6 443.9,197.9 438.7,201.8 433.6,205.7 427.1,204.4 420.6,207.0 414.1,201.8 407.7,197.9 402.5,195.3 394.7,195.3 388.3,191.4 388.3,182.4" fill="#6aaa3a" stroke="#6aaa3a" stroke-width="0.6" stroke-linejoin="round"/>
<polygon points="402.5,175.9 409.0,175.2 414.1,182.4 420.6,188.8 425.8,195.3 428.4,201.8 425.8,205.7 420.6,204.4 414.1,199.2 409.0,194.0 405.1,188.8 403.8,182.4" fill="#f5f56e" stroke="#f5f56e" stroke-width="0.6" stroke-linejoin="round"/>
<polygon points="427.1,179.8 433.6,178.5 440.0,182.4 438.7,186.2 432.3,186.2" fill="#f5f56e" stroke="#f5f56e" stroke-width="0.6" stroke-linejoin="round"/>
<polygon points="428.4,197.9 436.1,196.6 442.6,197.9 443.9,201.8 438.7,205.7 433.6,205.7" fill="#f5f56e" stroke="#f5f56e" stroke-width="0.6" stroke-linejoin="round"/>
<polygon points="418.0,208.3 425.8,205.7 433.6,207.0 440.0,208.3 443.9,212.1 441.3,221.2 436.1,227.7 433.6,240.6 425.8,241.9 420.6,234.1 419.3,222.5" fill="#6aaa3a" stroke="#6aaa3a" stroke-width="0.6" stroke-linejoin="round"/>
<polygon points="424.5,227.7 427.1,223.8 429.7,227.7 429.7,238.0 427.1,239.3" fill="#f5f56e" stroke="#f5f56e" stroke-width="0.6" stroke-linejoin="round"/>
<polygon points="380.5,238.0 388.3,234.1 394.7,235.4 397.3,240.6 393.4,245.8 387.0,248.4 381.8,245.8" fill="#6aaa3a" stroke="#6aaa3a" stroke-width="0.6" stroke-linejoin="round"/>
<polygon points="389.9,248.4 420.6,243.2 428.4,245.8 433.6,248.4 436.1,260.0 389.9,260.0" fill="#6aaa3a" stroke="#6aaa3a" stroke-width="0.6" stroke-linejoin="round"/>
<polygon points="393.4,245.8 399.9,240.6 407.7,239.3 415.4,240.6 420.6,244.5 423.2,251.0 423.2,260.0 389.9,260.0 389.9,251.0" fill="#f5f56e" stroke="#f5f56e" stroke-width="0.6" stroke-linejoin="round"/>
<polygon points="407.7,245.8 414.1,247.1 418.0,253.6 419.3,260.0 406.4,260.0 407.7,253.6" fill="#ffe600" stroke="#ffe600" stroke-width="0.6" stroke-linejoin="round"/>
<polygon points="436.1,234.1 443.9,232.8 450.0,235.4 450.0,260.0 441.3,260.0 437.4,251.0" fill="#6aaa3a" stroke="#6aaa3a" stroke-width="0.6" stroke-linejoin="round"/>
<polygon points="443.9,248.4 450.0,248.4 450.0,260.0 446.5,260.0" fill="#f5f56e" stroke="#f5f56e" stroke-width="0.6" stroke-linejoin="round"/>
<polygon points="760.0,50.0 893.3,50.0 893.3,259.9 760.0,259.9" fill="#92d050"/>
<polygon points="760.0,50.0 878.5,50.0 876.0,64.8 876.0,79.6 868.6,92.0 856.3,101.9 844.0,109.3 836.5,121.6 839.0,134.0 836.5,148.8 846.4,156.2 861.2,163.6 871.1,173.5 873.6,183.3 868.6,193.2 873.6,203.1 883.5,213.0 888.4,227.8 890.9,242.6 883.5,252.5 871.1,259.9 856.3,259.9 848.9,247.5 841.5,237.7 836.5,227.8 841.5,217.9 834.1,208.0 824.2,200.6 804.4,205.6 789.6,198.1 774.8,203.1 760.0,208.0" fill="#6aaa3a" stroke="#6aaa3a" stroke-width="0.6" stroke-linejoin="round"/>
<polygon points="841.5,106.8 851.4,103.1 858.8,109.3 853.8,116.7 844.0,116.7" fill="#92d050" stroke="#92d050" stroke-width="0.6" stroke-linejoin="round"/>
<polygon points="853.8,131.5 866.2,129.0 878.5,124.1 888.4,124.1 893.3,131.5 893.3,173.5 883.5,173.5 873.6,166.0 863.7,158.6 851.4,151.2 844.0,143.8 846.4,136.4" fill="#92d050" stroke="#92d050" stroke-width="0.6" stroke-linejoin="round"/>
<polygon points="876.0,188.3 888.4,183.3 893.3,188.3 893.3,222.8 885.9,217.9 881.0,203.1" fill="#92d050" stroke="#92d050" stroke-width="0.6" stroke-linejoin="round"/>
<polygon points="760.0,50.0 876.0,50.0 873.6,64.8 868.6,79.6 861.2,92.0 848.9,99.4 836.5,106.8 831.6,121.6 834.1,138.9 831.6,148.8 841.5,158.6 851.4,166.0 856.3,178.4 853.8,188.3 858.8,198.1 853.8,208.0 846.4,217.9 844.0,227.8 836.5,222.8 834.1,210.5 826.7,198.1 809.4,190.7 794.6,188.3 792.1,173.5 789.6,161.1 779.8,156.2 769.9,161.1 760.0,163.6" fill="#f5f56e" stroke="#f5f56e" stroke-width="0.6" stroke-linejoin="round"/>
<polygon points="841.5,124.1 858.8,121.6 876.0,124.1 881.0,129.0 871.1,134.0 858.8,134.0 844.0,134.0" fill="#f5f56e" stroke="#f5f56e" stroke-width="0.6" stroke-linejoin="round"/>
<polygon points="760.0,50.0 863.7,50.0 861.2,64.8 856.3,79.6 844.0,87.0 834.1,94.4 829.1,109.3 826.7,124.1 824.2,136.4 816.8,148.8 804.4,153.7 794.6,153.7 787.2,156.2 777.3,153.7 767.4,156.2 760.0,158.6" fill="#ffe600" stroke="#ffe600" stroke-width="0.6" stroke-linejoin="round"/>
<polygon points="760.0,50.0 858.8,50.0 856.3,62.3 853.8,79.6 841.5,84.6 831.6,92.0 826.7,104.3 824.2,124.1 819.3,138.9 809.4,146.3 797.0,148.8 784.7,151.2 774.8,148.8 767.4,143.8 760.0,146.3" fill="#ffaf28" stroke="#ffaf28" stroke-width="0.6" stroke-linejoin="round"/>
<polygon points="760.0,50.0 809.4,50.0 811.9,59.9 819.3,64.8 834.1,64.8 839.0,69.8 834.1,77.2 829.1,84.6 824.2,94.4 821.7,104.3 816.8,114.2 806.9,119.1 799.5,124.1 792.1,129.0 782.2,131.5 769.9,136.4 760.0,138.9" fill="#ff8c00" stroke="#ff8c00" stroke-width="0.6" stroke-linejoin="round"/>
<polygon points="821.7,50.0 853.8,50.0 853.8,64.8 846.4,77.2 839.0,74.7 834.1,64.8 824.2,59.9" fill="#ff8c00" stroke="#ff8c00" stroke-width="0.6" stroke-linejoin="round"/>
<polygon points="760.0,50.0 774.8,50.0 777.3,64.8 769.9,74.7 760.0,79.6" fill="#ffaf28" stroke="#ffaf28" stroke-width="0.6" stroke-linejoin="round"/>
<polygon points="792.1,59.9 806.9,57.4 811.9,69.8 804.4,79.6 794.6,74.7" fill="#ffaf28" stroke="#ffaf28" stroke-width="0.6" stroke-linejoin="round"/>
<polygon points="802.0,106.8 809.4,104.3 814.3,114.2 806.9,121.6 799.5,116.7" fill="#ffaf28" stroke="#ffaf28" stroke-width="0.6" stroke-linejoin="round"/>
<polygon points="774.8,161.1 784.7,158.6 789.6,166.0 792.1,183.3 789.6,198.1 777.3,203.1 769.9,205.6 774.8,188.3 777.3,173.5" fill="#6aaa3a" stroke="#6aaa3a" stroke-width="0.6" stroke-linejoin="round"/>
<polygon points="730.0,140.0 810.0,140.0 810.0,220.0 730.0,220.0" fill="#ffe600"/>
<polygon points="730.0,140.0 794.9,140.0 794.9,153.2 786.5,152.2 777.1,151.3 767.6,149.4 761.1,149.4 758.2,158.8 753.5,168.2 746.9,175.8 744.1,182.4 739.4,191.8 734.7,198.4 730.0,202.1" fill="#ffaf28" stroke="#ffaf28" stroke-width="0.6" stroke-linejoin="round"/>
<polygon points="740.4,140.0 751.6,140.0 750.7,145.6 745.1,151.3 737.5,155.1 733.8,154.1 736.6,148.5" fill="#ff8c00" stroke="#ff8c00" stroke-width="0.6" stroke-linejoin="round"/>
<polygon points="794.9,140.0 810.0,140.0 810.0,154.1 805.3,158.8 801.5,164.5 797.8,168.2 794.9,168.2" fill="#ffaf28" stroke="#ffaf28" stroke-width="0.6" stroke-linejoin="round"/>
<polygon points="794.9,168.2 797.8,168.2 801.5,164.5 805.3,158.8 810.0,155.1 810.0,185.2 805.3,187.1 795.9,188.9 794.9,187.1" fill="#f5f56e" stroke="#f5f56e" stroke-width="0.6" stroke-linejoin="round"/>
<polygon points="739.4,220.0 748.8,211.5 756.4,202.1 762.0,192.7 767.6,182.4 773.3,170.1 777.1,160.7 780.8,156.0 784.6,155.1 788.4,158.8 790.2,168.2 792.1,179.5 794.9,187.1 795.9,188.9 791.2,190.8 786.5,188.9 782.7,182.4 777.1,192.7 769.5,205.9 763.9,215.3 762.0,220.0" fill="#f5f56e" stroke="#f5f56e" stroke-width="0.6" stroke-linejoin="round"/>
<polygon points="747.9,220.0 754.5,211.5 761.1,202.1 767.6,192.7 771.4,183.3 775.2,172.0 778.9,162.6 782.7,158.8 785.5,162.6 786.5,172.9 786.5,182.4 788.4,188.0 795.9,189.9 805.3,188.9 810.0,188.0 810.0,220.0" fill="#6aaa3a" stroke="#6aaa3a" stroke-width="0.6" stroke-linejoin="round"/>
<polygon points="810.0,192.7 810.0,220.0 761.1,220.0 767.6,209.6 774.2,198.4 779.9,187.1 782.7,183.3 785.5,184.2 787.4,188.9 791.2,192.7 797.8,192.7" fill="#92d050" stroke="#92d050" stroke-width="0.6" stroke-linejoin="round"/>
<polygon points="208.0,530.0 306.0,530.0 306.0,630.0 208.0,630.0" fill="#92d050"/>
<polygon points="208.0,530.0 276.6,530.0 278.9,541.8 281.3,551.2 276.6,559.4 269.5,562.9 267.2,568.8 264.8,577.1 269.5,581.8 274.2,588.8 271.9,595.9 268.4,602.9 264.8,612.4 267.2,619.4 271.9,624.1 274.2,630.0 208.0,630.0" fill="#6aaa3a" stroke="#6aaa3a" stroke-width="0.6" stroke-linejoin="round"/>
<polygon points="208.0,532.4 213.1,532.4 217.8,537.1 221.3,544.1 218.9,553.5 213.1,560.6 209.5,562.9 208.0,562.9" fill="#f5f56e" stroke="#f5f56e" stroke-width="0.6" stroke-linejoin="round"/>
<polygon points="208.4,538.2 213.1,537.1 217.8,541.8 218.9,548.8 215.4,554.7 210.7,555.9 208.0,553.5" fill="#ffe600" stroke="#ffe600" stroke-width="0.6" stroke-linejoin="round"/>
<polygon points="209.5,541.8 213.1,541.8 213.1,546.5 209.5,546.5" fill="#ffaf28" stroke="#ffaf28" stroke-width="0.6" stroke-linejoin="round"/>
<polygon points="208.0,565.3 213.1,564.1 217.8,566.5 221.3,571.2 221.3,579.4 217.8,584.1 213.1,586.5 208.0,587.6" fill="#f5f56e" stroke="#f5f56e" stroke-width="0.6" stroke-linejoin="round"/>
<polygon points="211.9,567.6 216.6,568.8 217.8,573.5 214.2,574.7 211.9,572.4" fill="#ffe600" stroke="#ffe600" stroke-width="0.6" stroke-linejoin="round"/>
<polygon points="228.4,530.0 264.8,530.0 267.2,535.9 269.5,540.6 276.6,541.8 286.0,537.1 294.2,530.0 294.2,533.5 288.4,541.8 281.3,548.8 276.6,559.4 269.5,562.9 263.6,560.6 258.9,559.4 255.4,561.8 250.7,565.3 247.2,567.6 241.3,564.1 237.8,560.6 234.2,557.1 229.5,554.7 227.2,548.8 229.5,541.8" fill="#ffe600" stroke="#ffe600" stroke-width="0.6" stroke-linejoin="round"/>
<polygon points="236.6,545.3 244.8,541.8 255.4,542.9 261.3,546.5 271.9,547.6 275.4,553.5 271.9,559.4 264.8,559.4 257.8,558.2 250.7,560.6 243.6,559.4 238.9,557.1 237.8,551.2" fill="#ffaf28" stroke="#ffaf28" stroke-width="0.6" stroke-linejoin="round"/>
<polygon points="230.7,530.0 238.9,530.0 237.8,535.9 233.1,537.1" fill="#ffaf28" stroke="#ffaf28" stroke-width="0.6" stroke-linejoin="round"/>
<polygon points="222.5,559.4 228.4,558.2 236.6,561.8 244.8,567.6 247.2,574.7 249.5,581.8 255.4,585.3 264.8,585.3 268.4,588.8 267.2,595.9 262.5,600.6 256.6,602.9 250.7,606.5 244.8,610.0 238.9,612.4 233.1,611.2 226.0,607.6 222.5,600.6 222.5,591.2 224.8,582.9 223.6,574.7 222.5,565.3" fill="#f5f56e" stroke="#f5f56e" stroke-width="0.6" stroke-linejoin="round"/>
<polygon points="246.0,568.8 250.7,564.1 255.4,560.6 261.3,564.1 267.2,568.8 267.2,574.7 262.5,579.4 258.9,582.9 253.1,584.1 249.5,580.6 247.2,574.7" fill="#ffe600" stroke="#ffe600" stroke-width="0.6" stroke-linejoin="round"/>
<polygon points="249.5,567.6 255.4,565.3 260.1,568.8 258.9,574.7 254.2,578.2 250.7,577.1" fill="#ffaf28" stroke="#ffaf28" stroke-width="0.6" stroke-linejoin="round"/>
<polygon points="224.8,584.1 229.5,579.4 235.4,580.6 241.3,584.1 247.2,586.5 250.7,591.2 248.4,598.2 244.8,602.9 238.9,606.5 233.1,607.6 227.2,604.1 224.8,598.2 223.6,591.2" fill="#6aaa3a" stroke="#6aaa3a" stroke-width="0.6" stroke-linejoin="round"/>
<polygon points="257.8,598.2 262.5,597.1 264.8,601.8 260.1,604.1" fill="#ffe600" stroke="#ffe600" stroke-width="0.6" stroke-linejoin="round"/>
<polygon points="254.2,610.0 257.8,608.8 258.9,614.7 255.4,615.9" fill="#ffe600" stroke="#ffe600" stroke-width="0.6" stroke-linejoin="round"/>
<polygon points="208.0,590.0 213.1,591.2 217.8,595.9 223.6,600.6 229.5,606.5 236.6,612.4 238.9,618.2 235.4,624.1 229.5,630.0 208.0,630.0" fill="#ffe600" stroke="#ffe600" stroke-width="0.6" stroke-linejoin="round"/>
<polygon points="209.5,604.1 215.4,604.1 221.3,607.6 220.1,612.4 213.1,612.4 209.5,610.0" fill="#ffaf28" stroke="#ffaf28" stroke-width="0.6" stroke-linejoin="round"/>
<polygon points="237.8,612.4 247.2,610.0 253.1,612.4 255.4,619.4 250.7,624.1 244.8,626.5 240.1,624.1" fill="#f5f56e" stroke="#f5f56e" stroke-width="0.6" stroke-linejoin="round"/>
<polygon points="220.1,611.8 253.1,607.1 271.9,611.8 276.6,625.9 271.9,640.0 260.1,644.7 241.3,644.7 227.2,640.0 220.1,630.6" fill="#6aaa3a" stroke="#6aaa3a" stroke-width="0.6" stroke-linejoin="round"/>
<polygon points="234.2,618.8 243.6,611.8 253.1,611.8 248.4,621.2 238.9,628.2 231.9,630.6" fill="#f5f56e" stroke="#f5f56e" stroke-width="0.6" stroke-linejoin="round"/>
<polygon points="559.9,380.0 700.0,380.0 700.0,430.0 559.9,430.0" fill="#f5f56e"/>
<polygon points="559.9,380.0 573.7,381.1 585.9,391.8 593.5,397.9 593.5,410.1 585.9,407.1 570.6,401.0 559.9,394.8" fill="#6aaa3a" stroke="#6aaa3a" stroke-width="0.6" stroke-linejoin="round"/>
<polygon points="559.9,394.8 570.6,401.0 585.9,407.1 593.5,410.1 593.5,430.0 559.9,430.0" fill="#92d050" stroke="#92d050" stroke-width="0.6" stroke-linejoin="round"/>
<polygon points="619.5,380.0 631.8,380.0 641.0,380.0 650.1,380.0 647.1,382.6 641.0,383.4 628.7,381.8" fill="#6aaa3a" stroke="#6aaa3a" stroke-width="0.6" stroke-linejoin="round"/>
<polygon points="654.7,382.6 662.4,380.0 682.3,380.0 685.3,385.7 680.7,394.8 674.6,407.1 670.0,416.3 663.9,410.1 660.8,399.4 656.3,391.8" fill="#6aaa3a" stroke="#6aaa3a" stroke-width="0.6" stroke-linejoin="round"/>
<polygon points="665.4,385.7 673.1,383.4 677.7,388.7 674.6,397.9 668.5,399.4 664.7,393.3" fill="#92d050" stroke="#92d050" stroke-width="0.6" stroke-linejoin="round"/>
<polygon points="647.1,401.0 653.2,399.4 654.7,407.1 650.1,408.6" fill="#ffe600" stroke="#ffe600" stroke-width="0.6" stroke-linejoin="round"/>
<polygon points="674.6,425.4 686.8,420.8 700.0,419.3 700.0,430.0 674.6,430.0" fill="#ffe600" stroke="#ffe600" stroke-width="0.6" stroke-linejoin="round"/>
<polygon points="677.7,427.7 693.0,424.7 700.0,424.2 700.0,430.0 677.7,430.0" fill="#ffaf28" stroke="#ffaf28" stroke-width="0.6" stroke-linejoin="round"/>
<polygon points="693.0,380.0 700.0,380.0 700.0,391.8 694.5,388.7" fill="#6aaa3a" stroke="#6aaa3a" stroke-width="0.6" stroke-linejoin="round"/>
<polygon points="570.0,400.0 690.0,400.0 690.0,460.0 570.0,460.0" fill="#f5f56e"/>
<polygon points="570.0,400.0 588.5,400.0 591.8,406.5 596.2,409.8 602.7,412.0 610.4,414.2 616.9,419.6 621.3,428.4 621.3,436.0 619.1,449.1 613.6,460.0 570.0,460.0" fill="#92d050" stroke="#92d050" stroke-width="0.6" stroke-linejoin="round"/>
<polygon points="588.5,400.0 592.9,400.0 595.1,405.5 601.6,409.3 611.5,410.4 619.1,415.3 624.5,424.0 628.9,428.4 637.6,430.5 639.8,433.8 634.4,439.3 645.3,442.5 640.9,448.0 638.7,454.5 639.8,460.0 613.6,460.0 619.1,449.1 621.3,436.0 621.3,428.4 616.9,419.6 610.4,414.2 602.7,412.0 596.2,409.8 591.8,406.5" fill="#6aaa3a" stroke="#6aaa3a" stroke-width="0.6" stroke-linejoin="round"/>
<polygon points="570.0,400.0 589.6,400.0 591.8,403.3 585.3,404.4 576.5,402.2 570.0,402.2" fill="#6aaa3a" stroke="#6aaa3a" stroke-width="0.6" stroke-linejoin="round"/>
<polygon points="663.8,416.4 668.2,410.9 674.7,408.7 683.5,409.8 679.1,413.1 675.8,419.6 668.2,420.7" fill="#6aaa3a" stroke="#6aaa3a" stroke-width="0.6" stroke-linejoin="round"/>
<polygon points="622.4,404.4 627.8,403.3 630.0,405.5 626.7,406.5" fill="#6aaa3a" stroke="#6aaa3a" stroke-width="0.6" stroke-linejoin="round"/>
<polygon points="655.1,443.6 660.5,432.7 668.2,426.2 679.1,422.9 690.0,421.8 690.0,436.0 679.1,439.3 671.5,446.9 666.0,452.4 659.5,452.4 656.2,449.1" fill="#ffe600" stroke="#ffe600" stroke-width="0.6" stroke-linejoin="round"/>
<polygon points="670.4,434.9 679.1,429.5 690.0,427.3 690.0,432.7 681.3,434.9 674.7,438.2" fill="#ffaf28" stroke="#ffaf28" stroke-width="0.6" stroke-linejoin="round"/>
<polygon points="646.4,460.0 652.9,454.5 662.7,452.4 672.5,445.8 680.2,439.3 690.0,436.0 690.0,460.0" fill="#6aaa3a" stroke="#6aaa3a" stroke-width="0.6" stroke-linejoin="round"/>
<polygon points="657.3,460.0 663.8,455.6 673.6,451.3 681.3,445.8 690.0,443.6 690.0,460.0" fill="#92d050" stroke="#92d050" stroke-width="0.6" stroke-linejoin="round"/>
<polygon points="648.5,402.2 651.8,401.1 654.0,405.5 651.8,408.7 648.5,406.5" fill="#ffe600" stroke="#ffe600" stroke-width="0.6" stroke-linejoin="round"/>
<g fill="none" stroke="#000" stroke-width="1.2" stroke-dasharray="3.5,5">
<polyline points="200.0,63.9 206.0,64.4 212.0,64.8 218.0,65.2 224.0,65.6 230.0,66.0 236.0,66.4 242.0,66.7 248.0,67.0 254.0,67.3 260.0,67.6 266.0,67.9 272.0,68.1 278.0,68.3 284.0,68.5 290.0,68.7 296.0,68.9 302.0,69.1 308.0,69.2 314.0,69.3 320.0,69.4 326.0,69.5 332.0,69.5 338.0,69.6 344.0,69.6 350.0,69.6 356.0,69.6 362.0,69.5 368.0,69.5 374.0,69.4 380.0,69.3 386.0,69.2 392.0,69.1 398.0,69.0 404.0,68.8 410.0,68.6 416.0,68.4 422.0,68.2 428.0,68.0 434.0,67.7 440.0,67.4 446.0,67.1 452.0,66.8 458.0,66.5 464.0,66.1 470.0,65.8 476.0,65.4 482.0,65.0 488.0,64.5 494.0,64.1 500.0,63.6 506.0,63.2 512.0,62.7 518.0,62.1 524.0,61.6 530.0,61.0 536.0,60.5 542.0,59.9 548.0,59.3 554.0,58.6 560.0,58.0 566.0,57.3 572.0,56.6 578.0,55.9 584.0,55.2 590.0,54.5 596.0,53.7 602.0,52.9 608.0,52.1 614.0,51.3 620.0,50.4 626.0,49.6 632.0,48.7 638.0,47.8 644.0,46.9 650.0,46.0 656.0,45.0 662.0,44.0 668.0,43.0 674.0,42.0 680.0,41.0 686.0,39.9 692.0,38.9 698.0,37.8 704.0,36.7 710.0,35.5 716.0,34.4 722.0,33.2 728.0,32.0 734.0,30.8 740.0,29.6 746.0,28.4 752.0,27.1 758.0,25.8 764.0,24.5 770.0,23.2 776.0,21.8 782.0,20.5 788.0,19.1 794.0,17.7 800.0,16.2 806.0,14.8 812.0,13.3 818.0,11.8 824.0,10.3 830.0,8.8 836.0,7.3 842.0,5.7 848.0,4.1 854.0,2.5 860.0,0.9 866.0,-0.8 872.0,-2.5 878.0,-4.2 884.0,-5.9 890.0,-7.6 896.0,-9.4"/>
<polyline points="200.0,153.2 206.0,153.6 212.0,154.0 218.0,154.4 224.0,154.8 230.0,155.2 236.0,155.5 242.0,155.8 248.0,156.1 254.0,156.4 260.0,156.7 266.0,157.0 272.0,157.2 278.0,157.4 284.0,157.6 290.0,157.8 296.0,157.9 302.0,158.1 308.0,158.2 314.0,158.3 320.0,158.4 326.0,158.5 332.0,158.5 338.0,158.6 344.0,158.6 350.0,158.6 356.0,158.6 362.0,158.6 368.0,158.5 374.0,158.4 380.0,158.4 386.0,158.3 392.0,158.1 398.0,158.0 404.0,157.8 410.0,157.7 416.0,157.5 422.0,157.3 428.0,157.0 434.0,156.8 440.0,156.5 446.0,156.2 452.0,155.9 458.0,155.6 464.0,155.3 470.0,154.9 476.0,154.6 482.0,154.2 488.0,153.8 494.0,153.4 500.0,152.9 506.0,152.5 512.0,152.0 518.0,151.5 524.0,151.0 530.0,150.4 536.0,149.9 542.0,149.3 548.0,148.7 554.0,148.1 560.0,147.5 566.0,146.9 572.0,146.2 578.0,145.5 584.0,144.8 590.0,144.1 596.0,143.4 602.0,142.7 608.0,141.9 614.0,141.1 620.0,140.3 626.0,139.5 632.0,138.6 638.0,137.8 644.0,136.9 650.0,136.0 656.0,135.1 662.0,134.2 668.0,133.2 674.0,132.3 680.0,131.3 686.0,130.3 692.0,129.3 698.0,128.2 704.0,127.2 710.0,126.1 716.0,125.0 722.0,123.9 728.0,122.7 734.0,121.6 740.0,120.4 746.0,119.2 752.0,118.0 758.0,116.8 764.0,115.5 770.0,114.3 776.0,113.0 782.0,111.7 788.0,110.4 794.0,109.0 800.0,107.6 806.0,106.3 812.0,104.9 818.0,103.5 824.0,102.0 830.0,100.6 836.0,99.1 842.0,97.6 848.0,96.1 854.0,94.5 860.0,93.0 866.0,91.4 872.0,89.8 878.0,88.2 884.0,86.6 890.0,84.9 896.0,83.2"/>
<polyline points="200.0,242.4 206.0,242.9 212.0,243.3 218.0,243.6 224.0,244.0 230.0,244.3 236.0,244.7 242.0,245.0 248.0,245.3 254.0,245.5 260.0,245.8 266.0,246.0 272.0,246.3 278.0,246.5 284.0,246.7 290.0,246.8 296.0,247.0 302.0,247.1 308.0,247.2 314.0,247.3 320.0,247.4 326.0,247.5 332.0,247.6 338.0,247.6 344.0,247.6 350.0,247.6 356.0,247.6 362.0,247.6 368.0,247.5 374.0,247.5 380.0,247.4 386.0,247.3 392.0,247.2 398.0,247.0 404.0,246.9 410.0,246.7 416.0,246.5 422.0,246.3 428.0,246.1 434.0,245.9 440.0,245.6 446.0,245.4 452.0,245.1 458.0,244.8 464.0,244.4 470.0,244.1 476.0,243.8 482.0,243.4 488.0,243.0 494.0,242.6 500.0,242.2 506.0,241.7 512.0,241.3 518.0,240.8 524.0,240.3 530.0,239.8 536.0,239.3 542.0,238.7 548.0,238.2 554.0,237.6 560.0,237.0 566.0,236.4 572.0,235.7 578.0,235.1 584.0,234.4 590.0,233.8 596.0,233.1 602.0,232.3 608.0,231.6 614.0,230.9 620.0,230.1 626.0,229.3 632.0,228.5 638.0,227.7 644.0,226.8 650.0,226.0 656.0,225.1 662.0,224.2 668.0,223.3 674.0,222.4 680.0,221.5 686.0,220.5 692.0,219.5 698.0,218.5 704.0,217.5 710.0,216.5 716.0,215.4 722.0,214.4 728.0,213.3 734.0,212.2 740.0,211.0 746.0,209.9 752.0,208.8 758.0,207.6 764.0,206.4 770.0,205.2 776.0,203.9 782.0,202.7 788.0,201.4 794.0,200.2 800.0,198.9 806.0,197.5 812.0,196.2 818.0,194.8 824.0,193.5 830.0,192.1 836.0,190.7 842.0,189.2 848.0,187.8 854.0,186.3 860.0,184.8 866.0,183.3 872.0,181.8 878.0,180.3 884.0,178.7 890.0,177.1 896.0,175.5"/>
<polyline points="200.0,331.7 206.0,332.1 212.0,332.4 218.0,332.8 224.0,333.1 230.0,333.5 236.0,333.8 242.0,334.1 248.0,334.4 254.0,334.6 260.0,334.9 266.0,335.1 272.0,335.3 278.0,335.5 284.0,335.7 290.0,335.9 296.0,336.0 302.0,336.2 308.0,336.3 314.0,336.4 320.0,336.5 326.0,336.5 332.0,336.6 338.0,336.6 344.0,336.6 350.0,336.6 356.0,336.6 362.0,336.6 368.0,336.5 374.0,336.5 380.0,336.4 386.0,336.3 392.0,336.2 398.0,336.1 404.0,335.9 410.0,335.8 416.0,335.6 422.0,335.4 428.0,335.2 434.0,335.0 440.0,334.7 446.0,334.5 452.0,334.2 458.0,333.9 464.0,333.6 470.0,333.3 476.0,332.9 482.0,332.6 488.0,332.2 494.0,331.8 500.0,331.4 506.0,331.0 512.0,330.5 518.0,330.1 524.0,329.6 530.0,329.1 536.0,328.6 542.0,328.1 548.0,327.6 554.0,327.0 560.0,326.4 566.0,325.8 572.0,325.2 578.0,324.6 584.0,324.0 590.0,323.3 596.0,322.7 602.0,322.0 608.0,321.3 614.0,320.5 620.0,319.8 626.0,319.1 632.0,318.3 638.0,317.5 644.0,316.7 650.0,315.9 656.0,315.0 662.0,314.2 668.0,313.3 674.0,312.4 680.0,311.5 686.0,310.6 692.0,309.7 698.0,308.7 704.0,307.7 710.0,306.8 716.0,305.7 722.0,304.7 728.0,303.7 734.0,302.6 740.0,301.6 746.0,300.5 752.0,299.4 758.0,298.2 764.0,297.1 770.0,295.9 776.0,294.8 782.0,293.6 788.0,292.3 794.0,291.1 800.0,289.9 806.0,288.6 812.0,287.3 818.0,286.0 824.0,284.7 830.0,283.4 836.0,282.0 842.0,280.7 848.0,279.3 854.0,277.9 860.0,276.4 866.0,275.0 872.0,273.6 878.0,272.1 884.0,270.6 890.0,269.1 896.0,267.5"/>
<polyline points="200.0,420.9 206.0,421.2 212.0,421.6 218.0,422.0 224.0,422.3 230.0,422.6 236.0,422.9 242.0,423.2 248.0,423.5 254.0,423.7 260.0,424.0 266.0,424.2 272.0,424.4 278.0,424.6 284.0,424.7 290.0,424.9 296.0,425.1 302.0,425.2 308.0,425.3 314.0,425.4 320.0,425.5 326.0,425.5 332.0,425.6 338.0,425.6 344.0,425.6 350.0,425.6 356.0,425.6 362.0,425.6 368.0,425.6 374.0,425.5 380.0,425.4 386.0,425.3 392.0,425.2 398.0,425.1 404.0,425.0 410.0,424.8 416.0,424.6 422.0,424.4 428.0,424.2 434.0,424.0 440.0,423.8 446.0,423.5 452.0,423.3 458.0,423.0 464.0,422.7 470.0,422.4 476.0,422.1 482.0,421.7 488.0,421.4 494.0,421.0 500.0,420.6 506.0,420.2 512.0,419.8 518.0,419.3 524.0,418.9 530.0,418.4 536.0,417.9 542.0,417.4 548.0,416.9 554.0,416.4 560.0,415.8 566.0,415.3 572.0,414.7 578.0,414.1 584.0,413.5 590.0,412.9 596.0,412.2 602.0,411.6 608.0,410.9 614.0,410.2 620.0,409.5 626.0,408.8 632.0,408.0 638.0,407.3 644.0,406.5 650.0,405.7 656.0,404.9 662.0,404.1 668.0,403.2 674.0,402.4 680.0,401.5 686.0,400.6 692.0,399.7 698.0,398.8 704.0,397.9 710.0,396.9 716.0,396.0 722.0,395.0 728.0,394.0 734.0,393.0 740.0,391.9 746.0,390.9 752.0,389.8 758.0,388.8 764.0,387.7 770.0,386.5 776.0,385.4 782.0,384.3 788.0,383.1 794.0,381.9 800.0,380.7 806.0,379.5 812.0,378.3 818.0,377.0 824.0,375.8 830.0,374.5 836.0,373.2 842.0,371.9 848.0,370.6 854.0,369.2 860.0,367.9 866.0,366.5 872.0,365.1 878.0,363.7 884.0,362.2 890.0,360.8 896.0,359.3"/>
<polyline points="200.0,510.1 206.0,510.4 212.0,510.8 218.0,511.1 224.0,511.4 230.0,511.7 236.0,512.0 242.0,512.3 248.0,512.6 254.0,512.8 260.0,513.0 266.0,513.2 272.0,513.4 278.0,513.6 284.0,513.8 290.0,513.9 296.0,514.1 302.0,514.2 308.0,514.3 314.0,514.4 320.0,514.5 326.0,514.5 332.0,514.6 338.0,514.6 344.0,514.6 350.0,514.6 356.0,514.6 362.0,514.6 368.0,514.6 374.0,514.5 380.0,514.4 386.0,514.3 392.0,514.2 398.0,514.1 404.0,514.0 410.0,513.8 416.0,513.7 422.0,513.5 428.0,513.3 434.0,513.1 440.0,512.9 446.0,512.6 452.0,512.4 458.0,512.1 464.0,511.8 470.0,511.5 476.0,511.2 482.0,510.9 488.0,510.5 494.0,510.2 500.0,509.8 506.0,509.4 512.0,509.0 518.0,508.6 524.0,508.2 530.0,507.7 536.0,507.2 542.0,506.8 548.0,506.3 554.0,505.7 560.0,505.2 566.0,504.7 572.0,504.1 578.0,503.5 584.0,503.0 590.0,502.3 596.0,501.7 602.0,501.1 608.0,500.4 614.0,499.8 620.0,499.1 626.0,498.4 632.0,497.7 638.0,497.0 644.0,496.2 650.0,495.5 656.0,494.7 662.0,493.9 668.0,493.1 674.0,492.3 680.0,491.4 686.0,490.6 692.0,489.7 698.0,488.8 704.0,487.9 710.0,487.0 716.0,486.1 722.0,485.2 728.0,484.2 734.0,483.2 740.0,482.2 746.0,481.2 752.0,480.2 758.0,479.2 764.0,478.1 770.0,477.0 776.0,475.9 782.0,474.8 788.0,473.7 794.0,472.6 800.0,471.4 806.0,470.3 812.0,469.1 818.0,467.9 824.0,466.7 830.0,465.5 836.0,464.2 842.0,463.0 848.0,461.7 854.0,460.4 860.0,459.1 866.0,457.7 872.0,456.4 878.0,455.0 884.0,453.7 890.0,452.3 896.0,450.9"/>
<polyline points="200.0,599.2 206.0,599.6 212.0,599.9 218.0,600.2 224.0,600.6 230.0,600.8 236.0,601.1 242.0,601.4 248.0,601.6 254.0,601.9 260.0,602.1 266.0,602.3 272.0,602.5 278.0,602.7 284.0,602.8 290.0,603.0 296.0,603.1 302.0,603.2 308.0,603.3 314.0,603.4 320.0,603.5 326.0,603.6 332.0,603.6 338.0,603.6 344.0,603.7 350.0,603.7 356.0,603.6 362.0,603.6 368.0,603.6 374.0,603.5 380.0,603.5 386.0,603.4 392.0,603.3 398.0,603.2 404.0,603.0 410.0,602.9 416.0,602.7 422.0,602.6 428.0,602.4 434.0,602.2 440.0,601.9 446.0,601.7 452.0,601.5 458.0,601.2 464.0,600.9 470.0,600.7 476.0,600.3 482.0,600.0 488.0,599.7 494.0,599.4 500.0,599.0 506.0,598.6 512.0,598.2 518.0,597.8 524.0,597.4 530.0,597.0 536.0,596.5 542.0,596.0 548.0,595.6 554.0,595.1 560.0,594.6 566.0,594.0 572.0,593.5 578.0,593.0 584.0,592.4 590.0,591.8 596.0,591.2 602.0,590.6 608.0,590.0 614.0,589.3 620.0,588.7 626.0,588.0 632.0,587.3 638.0,586.6 644.0,585.9 650.0,585.2 656.0,584.4 662.0,583.7 668.0,582.9 674.0,582.1 680.0,581.3 686.0,580.5 692.0,579.6 698.0,578.8 704.0,577.9 710.0,577.0 716.0,576.1 722.0,575.2 728.0,574.3 734.0,573.4 740.0,572.4 746.0,571.5 752.0,570.5 758.0,569.5 764.0,568.4 770.0,567.4 776.0,566.4 782.0,565.3 788.0,564.2 794.0,563.1 800.0,562.0 806.0,560.9 812.0,559.8 818.0,558.6 824.0,557.5 830.0,556.3 836.0,555.1 842.0,553.9 848.0,552.6 854.0,551.4 860.0,550.1 866.0,548.8 872.0,547.6 878.0,546.2 884.0,544.9 890.0,543.6 896.0,542.2"/>
<polyline points="200.0,688.4 206.0,688.7 212.0,689.1 218.0,689.4 224.0,689.7 230.0,690.0 236.0,690.2 242.0,690.5 248.0,690.7 254.0,690.9 260.0,691.2 266.0,691.4 272.0,691.5 278.0,691.7 284.0,691.9 290.0,692.0 296.0,692.1 302.0,692.3 308.0,692.4 314.0,692.4 320.0,692.5 326.0,692.6 332.0,692.6 338.0,692.7 344.0,692.7 350.0,692.7 356.0,692.7 362.0,692.6 368.0,692.6 374.0,692.5 380.0,692.5 386.0,692.4 392.0,692.3 398.0,692.2 404.0,692.1 410.0,691.9 416.0,691.8 422.0,691.6 428.0,691.4 434.0,691.2 440.0,691.0 446.0,690.8 452.0,690.6 458.0,690.3 464.0,690.0 470.0,689.8 476.0,689.5 482.0,689.2 488.0,688.8 494.0,688.5 500.0,688.2 506.0,687.8 512.0,687.4 518.0,687.0 524.0,686.6 530.0,686.2 536.0,685.8 542.0,685.3 548.0,684.9 554.0,684.4 560.0,683.9 566.0,683.4 572.0,682.9 578.0,682.3 584.0,681.8 590.0,681.2 596.0,680.6 602.0,680.1 608.0,679.5 614.0,678.8 620.0,678.2 626.0,677.6 632.0,676.9 638.0,676.2 644.0,675.5 650.0,674.8 656.0,674.1 662.0,673.4 668.0,672.6 674.0,671.9 680.0,671.1 686.0,670.3 692.0,669.5 698.0,668.7 704.0,667.8 710.0,667.0 716.0,666.1 722.0,665.2 728.0,664.4 734.0,663.4 740.0,662.5 746.0,661.6 752.0,660.6 758.0,659.7 764.0,658.7 770.0,657.7 776.0,656.7 782.0,655.7 788.0,654.6 794.0,653.6 800.0,652.5 806.0,651.4 812.0,650.3 818.0,649.2 824.0,648.1 830.0,647.0 836.0,645.8 842.0,644.6 848.0,643.4 854.0,642.2 860.0,641.0 866.0,639.8 872.0,638.6 878.0,637.3 884.0,636.0 890.0,634.7 896.0,633.4"/>
</g>
<g fill="none" stroke="#000" stroke-width="1.3" stroke-dasharray="1.5,8.5">
<line x1="117.7" y1="750" x2="184.4" y2="50"/>
<line x1="215.3" y1="750" x2="253.6" y2="50"/>
<line x1="313.2" y1="750" x2="322.4" y2="50"/>
<line x1="411.3" y1="750" x2="391.8" y2="50"/>
<line x1="508.4" y1="750" x2="461.2" y2="50"/>
<line x1="606.3" y1="750" x2="530.6" y2="50"/>
<line x1="703.3" y1="750" x2="599.8" y2="50"/>
<line x1="801.1" y1="750" x2="669.0" y2="50"/>
<line x1="898.7" y1="750" x2="738.2" y2="50"/>
<line x1="996.3" y1="750" x2="807.4" y2="50"/>
<line x1="1093.9" y1="750" x2="876.6" y2="50"/>
</g>
<g fill="none" stroke="#000" stroke-width="1" stroke-linejoin="round" shape-rendering="crispEdges">
<polyline points="216.5,110.0 221.2,110.7 228.2,119.4 235.3,121.1 242.4,121.8 249.4,125.3 256.5,129.5 265.9,132.8 277.6,132.8 284.7,131.9 285.4,138.2 291.8,138.9 296.5,140.6 303.5,135.2 312.9,131.9 322.4,127.6 331.8,124.1 341.2,120.1 348.2,119.4 356.5,114.7 360.0,116.4 369.4,115.4 381.2,114.7 391.8,115.9 400.0,114.7"/>
<polyline points="209.4,222.9 215.3,221.8 221.2,217.1 215.3,211.2 223.5,210.0 231.8,206.5 237.6,210.0 244.7,212.4 247.1,211.2 254.1,205.3 261.2,203.4 269.4,202.5 272.5,204.1 272.9,210.0 275.8,214.7 270.6,224.1 263.5,228.8 255.3,232.4 256.5,238.2 252.9,244.1 251.8,250.0"/>
<polyline points="315.3,250.0 315.8,235.9 317.6,224.1 321.2,214.7 328.2,210.0 331.8,207.6 339.3,205.3 341.2,212.4 344.0,217.1 341.2,224.1 337.6,231.2 332.9,238.2 343.5,242.9 354.1,245.3 356.5,250.0"/>
<polyline points="400.0,231.2 396.5,238.2 395.3,250.0"/>
<polyline points="400.0,113.5 407.1,110.0 414.1,107.6 423.5,104.1 430.6,99.4 437.6,91.2 444.7,85.3 451.8,80.6 458.8,75.9 461.6,72.4 461.6,68.8 456.5,64.1 450.6,57.1 448.2,52.4 449.4,50.0"/>
<polyline points="600.0,93.5 592.9,94.7 585.9,97.1 581.2,100.6 580.0,108.8 581.2,113.5 574.1,115.9 569.4,117.1 564.7,119.4 562.4,120.6 557.6,120.6 552.9,122.9 545.9,127.6 541.2,131.2 536.5,131.2 535.3,122.9 532.9,117.1 528.2,115.9 524.7,118.2 522.4,122.9 520.0,130.0 515.3,134.7 511.8,138.2 515.3,144.1 512.9,148.8 517.6,153.5 522.4,158.2 520.0,161.8"/>
<polyline points="400.0,228.2 407.3,222.7 414.5,215.5 418.2,210.0 423.6,206.4 424.5,202.7 427.3,204.5 431.8,206.4 436.4,204.5 440.9,202.7 443.6,200.0 447.3,198.2 449.1,199.1 450.0,204.5"/>
<polyline points="450.0,204.5 447.3,213.6 445.5,222.7 441.8,228.2 438.2,233.6 436.4,239.1 436.4,250.0"/>
<polyline points="450.0,204.5 452.7,204.5 454.5,199.1 456.4,195.5 461.8,194.5 469.1,193.6 470.9,191.8 471.8,186.4 474.5,179.1 478.2,175.5 483.6,176.4 489.1,177.3 492.7,171.8 501.8,171.8 509.1,168.2 512.7,164.5 516.4,166.4 518.2,164.5 519.1,159.1 516.4,155.5 514.5,150.0"/>
<polyline points="518.2,160.9 525.5,164.5 530.9,169.1 527.3,173.6 520.0,175.5 517.3,179.1 520.0,180.9 527.3,182.7 530.9,188.2 532.7,197.3 530.9,202.7 523.6,206.4 518.2,208.2 516.4,215.5 512.7,222.7 510.9,228.2 514.5,233.6 521.8,237.3 525.5,244.5 527.3,250.0"/>
<polyline points="600.0,93.5 603.5,97.1 607.1,101.8 609.4,105.3 611.8,107.6 614.1,108.8 615.3,112.4 613.5,117.1 612.9,120.6 615.3,122.9 617.6,125.3 620.0,128.8 621.2,130.0 629.4,127.6 638.8,128.2 641.2,125.3 642.4,121.8 641.2,118.2 640.0,114.7 638.8,110.0 638.8,106.5 640.0,105.3 636.5,100.6 641.2,95.3 644.7,98.2 650.6,98.2 652.9,102.9 655.3,107.6 657.6,111.8 660.0,107.6 663.5,102.9 665.9,99.4 670.6,95.9 675.3,93.5 677.6,91.2 681.2,86.5 684.7,84.7 689.4,83.5 691.8,81.8 695.3,79.4 696.5,75.9 700.0,74.7"/>
<polyline points="638.8,128.2 636.5,132.4 634.7,135.9 634.1,142.9 637.6,146.5 641.2,148.2 644.7,150.0"/>
<polyline points="684.7,132.4 682.4,134.7 676.5,138.2 670.6,138.2 667.1,137.1 665.9,133.5 668.2,130.0 672.9,128.8 677.6,126.5 681.2,125.3 684.7,128.8 689.4,127.6 694.1,128.8 700.0,127.6"/>
<polyline points="700.0,73.5 704.7,71.2 709.4,72.4 714.1,70.0 717.6,67.6 722.4,66.5 724.7,61.8 728.2,59.4 730.6,57.1 731.2,52.4 731.8,50.0"/>
<polyline points="747.1,50.0 749.4,54.7 751.8,59.4 754.1,55.9 756.5,52.4 757.6,50.0"/>
<polyline points="757.6,50.0 758.8,54.7 761.2,59.4 765.9,65.3 769.4,71.2 772.9,74.7 776.5,77.1 777.6,81.8 776.5,85.3 777.6,88.8 781.2,92.4 784.7,95.9 788.2,100.6 790.6,102.9 791.8,108.8 790.6,113.5 787.1,117.1 782.4,121.8 778.8,126.5 775.3,132.4 770.6,137.1 767.1,141.8 765.9,146.5 764.7,150.0"/>
<polyline points="791.8,108.8 795.3,107.6 798.8,106.5 800.0,105.3"/>
<polyline points="700.0,125.3 703.5,126.5 707.1,130.0 710.6,134.7 712.9,138.2 715.3,141.8 712.9,146.5 711.8,150.0"/>
<polyline points="604.7,164.1 607.1,167.6 609.4,171.2 605.9,174.7 608.2,179.4 611.8,181.8 615.3,181.8 617.6,185.3 620.0,188.8 620.6,192.4 624.7,193.5 628.2,195.9 632.9,193.5 637.6,191.2 642.4,188.8 647.1,185.3 649.4,181.8 649.4,177.1 651.8,171.2 654.1,167.6 656.5,164.1 658.8,161.8 661.2,159.4 665.9,157.1 670.6,154.7 675.3,151.2 676.5,150.0"/>
<polyline points="658.8,161.8 657.6,158.2 655.3,155.9 652.9,151.2 652.4,150.0"/>
<polyline points="620.6,192.4 615.3,194.7 612.9,200.6 611.8,208.8 607.1,211.2 600.0,212.4"/>
<polyline points="611.8,208.8 614.1,214.7 617.6,219.4 621.2,222.9 623.5,225.3 630.6,225.3 637.6,224.1 644.7,222.9 648.2,225.3 649.4,230.0 650.6,234.7 649.4,241.8 650.6,245.3 655.3,247.6 660.0,250.0"/>
<polyline points="621.2,222.9 616.5,226.5 614.1,231.2 611.8,233.5 605.9,234.7 600.0,235.9"/>
<polyline points="675.3,239.4 677.6,234.7 682.4,230.0 687.1,226.5 692.9,221.8 696.5,219.4 700.0,218.2"/>
<polyline points="700.0,162.4 703.5,160.6 707.1,157.1 710.6,153.5 711.8,150.0"/>
<polyline points="700.0,192.4 703.5,188.8 707.1,186.5 710.6,184.1 714.1,181.8 717.6,179.4 720.0,175.9 722.4,172.4 725.9,170.0 730.6,166.5 735.3,162.9 740.0,159.4 744.7,155.9 749.4,153.5 754.1,152.4 758.8,151.2 765.9,150.0"/>
<polyline points="768.2,151.2 782.4,152.4 794.1,154.7 795.3,164.1 794.1,178.2 792.9,187.6 791.8,197.1 794.1,199.4 800.0,202.9"/>
<polyline points="700.0,224.1 704.7,226.5 709.4,227.6 714.1,231.2 718.8,230.0 723.5,228.8 728.2,226.5 732.9,227.6 737.6,228.8 743.5,226.5 742.4,232.4 741.2,237.1 735.3,240.6 731.8,242.9 727.1,242.9 723.5,245.3 718.8,248.8 716.5,250.0"/>
<polyline points="877.6,50.0 875.3,59.4 872.9,68.8 877.6,80.6 880.0,90.0 872.9,97.1 865.9,106.5 856.5,115.9 847.1,125.3 837.6,132.4 842.4,137.1 842.4,144.1 841.2,148.8 854.1,153.5 865.9,160.6 877.6,172.4 884.7,178.2 892.0,174.7"/>
<polyline points="800.0,104.1 804.7,97.1 807.1,85.3 814.1,80.6 823.5,85.3 835.3,85.3 842.4,82.9 842.4,75.9 837.6,68.8 835.3,66.5 842.4,64.1 854.1,59.4 856.5,54.7 857.6,50.0"/>
<polyline points="800.0,205.3 809.4,202.9 823.5,199.4 835.3,205.3 840.0,212.4 844.7,217.1 832.9,224.1 840.0,233.5 847.1,242.9 849.4,250.0"/>
<polyline points="256.5,250.0 270.6,261.8 280.0,260.6 284.7,264.1 289.4,268.8 294.1,275.9 298.8,280.6 301.2,287.6 303.5,297.1 301.2,306.5 308.2,313.5 312.9,318.2 320.0,320.6 327.1,325.3 331.8,327.6"/>
<polyline points="334.1,273.5 331.8,285.3 334.1,297.1 338.8,304.1 341.2,313.5 336.5,314.7 331.8,318.2 330.6,327.6"/>
<polyline points="352.9,250.0 355.3,261.8 352.9,273.5 364.7,278.2 376.5,285.3 385.9,292.4 388.2,301.8 388.2,325.3 378.8,327.6 364.7,327.6 357.6,334.7 350.6,337.1 341.2,337.1 334.1,334.7 331.8,339.4 329.4,344.1 331.8,351.2 336.5,355.9 331.8,367.6 334.1,379.4 317.6,377.1 312.9,384.1 315.3,391.2 310.6,398.2 303.5,400.6 294.1,405.3 284.7,405.3 275.3,400.6 270.6,395.9 272.9,386.5 270.6,381.8 268.2,374.7 258.8,372.4 244.7,370.0 240.0,362.9 237.6,353.5 230.6,353.5 223.5,358.2 216.5,365.3 214.1,374.7 211.8,384.1 208.0,386.5"/>
<polyline points="211.8,250.0 214.1,257.1 223.5,264.1 230.6,271.2 230.6,278.2 235.3,287.6 240.0,297.1 237.6,306.5 230.6,315.9 221.2,320.6 214.1,327.6 211.8,337.1 209.4,344.1 214.1,351.2 208.0,355.9"/>
<polyline points="317.6,400.6 331.8,402.9 345.9,405.3 355.3,410.0 364.7,414.7 376.5,417.1 388.2,417.1 400.0,419.4"/>
<polyline points="385.9,417.1 383.5,428.8 388.2,435.9 378.8,445.3 376.5,450.0"/>
<polyline points="442.4,250.0 443.5,257.1 440.0,264.1 437.6,271.2 435.3,273.5 435.3,285.3 437.6,297.1 440.0,308.8 438.8,315.9 437.6,325.3 434.1,332.4 435.3,339.4 437.6,346.5 442.4,353.5 444.7,362.9 447.1,372.4 451.8,379.4 456.5,386.5 463.5,391.2 470.6,398.2 480.0,402.9 487.1,405.3 494.1,407.6 503.5,407.6 510.6,405.3 517.6,405.3 524.7,405.3 531.8,405.3 534.1,412.4 538.8,417.1 545.9,419.4 555.3,421.8 562.4,424.1 569.4,424.1 578.8,428.8"/>
<polyline points="456.5,384.1 444.7,386.5 432.9,386.5 423.5,386.5 414.1,386.5"/>
<polyline points="423.5,386.5 428.2,388.8 432.9,393.5 430.6,402.9 425.9,407.6 421.2,410.0 416.5,414.7 418.8,424.1 425.9,431.2 432.9,438.2 435.3,445.3 432.9,450.0"/>
<polyline points="400.0,426.5 409.4,428.8 418.8,424.1"/>
<polyline points="435.3,344.1 444.7,341.8 454.1,339.4 463.5,334.7 472.9,330.0 480.0,325.3 491.8,320.6 503.5,318.2 512.9,315.9 520.0,311.2 520.0,297.1 522.4,287.6 515.3,280.6 517.6,273.5 522.4,264.1 527.1,257.1 527.1,250.0"/>
<polyline points="520.0,287.6 531.8,290.0 541.2,292.4 550.6,293.5 560.0,292.4 567.1,290.0 564.7,278.2 567.1,271.2 574.1,264.1 578.8,254.7 583.5,250.0"/>
<polyline points="555.3,320.6 560.0,315.9 564.7,308.8 569.4,301.8 578.8,297.1 583.5,292.4"/>
<polyline points="552.9,322.9 560.0,327.6 569.4,330.0 578.8,332.4 588.2,334.7 595.3,332.4 600.0,325.3"/>
<polyline points="562.4,379.4 564.7,386.5 569.4,391.2 578.8,395.9 588.2,398.2 590.6,405.3"/>
<polyline points="600.0,355.9 592.9,355.9 585.9,353.5 578.8,351.2 578.8,360.6 576.5,370.0 574.1,377.1 562.4,379.4"/>
<polyline points="717.6,250.0 712.9,254.7 705.9,257.1 701.2,264.1 698.8,268.8 691.8,273.5 689.4,280.6 687.1,285.3 680.0,292.4 675.3,299.4 672.9,306.5 670.6,311.2 668.2,313.5 663.5,313.5 661.2,318.2 658.8,322.9 654.1,325.3 647.1,327.6 642.4,330.0 637.6,327.6 628.2,330.0 623.5,332.4 618.8,330.0 614.1,325.3 607.1,320.6 600.0,322.9"/>
<polyline points="600.0,320.6 609.4,332.4 614.1,339.4 621.2,344.1 628.2,346.5 635.3,351.2 642.4,353.5 647.1,353.5 644.7,362.9 647.1,370.0 654.1,377.1 661.2,381.8"/>
<polyline points="847.1,250.0 851.8,254.7 847.1,266.5 849.4,275.9 854.1,285.3 861.2,294.7 870.6,285.3 877.6,278.2 887.1,273.5"/>
<polyline points="308.2,473.5 310.6,471.2 322.4,473.5 336.5,475.9 341.2,480.6 348.2,480.6 355.3,471.2 362.4,461.8 371.8,457.1 375.3,450.0"/>
<polyline points="308.2,473.5 305.9,482.9 301.2,490.0 297.6,494.7 298.8,500.6 305.9,504.1 310.6,511.2 312.9,518.2 308.2,522.9 305.9,527.6 308.2,534.7 317.6,539.4 322.4,541.8 324.7,546.5 320.0,548.8 312.9,548.8 305.9,551.2 296.5,551.2 294.1,546.5 294.1,541.8 289.4,539.4 284.7,541.8 280.0,544.1 272.9,544.1 268.2,541.8 265.9,539.4 268.2,532.4 265.9,527.6 268.2,525.3 268.2,522.9 263.5,521.8 258.8,522.9 254.1,522.9 251.8,527.6 251.8,532.4 244.7,537.1 242.4,541.8 242.4,546.5 237.6,551.2 232.9,553.5 225.9,558.2 223.5,562.9 223.5,567.6 225.9,572.4 223.5,577.1 223.5,586.5 214.1,588.8 211.8,591.2 208.0,591.2"/>
<polyline points="312.9,518.2 317.6,513.5 322.4,515.9 327.1,520.6 331.8,522.9 336.5,518.2 341.2,515.9 345.9,518.2 350.6,513.5 355.3,508.8 362.4,506.5 369.4,508.8 376.5,511.2 383.5,511.2 385.9,515.9 390.6,520.6 392.9,527.6 400.0,532.4"/>
<polyline points="296.5,551.2 294.1,555.9 284.7,560.6 275.3,560.6 268.2,558.2 263.5,560.6 258.8,562.9 256.5,560.6 251.8,562.9 247.1,567.6 244.7,570.0 247.1,577.1 249.4,584.1 258.8,586.5 268.2,584.1 272.9,586.5 275.3,591.2 270.6,598.2 268.2,602.9 265.9,610.0 263.5,614.7 268.2,617.1 275.3,621.8 277.6,626.5 272.9,633.5 270.6,640.6 268.2,650.0"/>
<polyline points="270.6,638.2 280.0,635.9 289.4,635.9 298.8,633.5 305.9,638.2 312.9,640.6 322.4,635.9 331.8,628.8 336.5,621.8 345.9,617.1 352.9,614.7 360.0,619.4 369.4,624.1 378.8,621.8 385.9,614.7 392.9,617.1 400.0,612.4"/>
<polyline points="400.0,466.5 392.9,467.6 387.1,468.8 385.9,475.9 388.2,485.3 388.2,490.0 392.9,492.4 400.0,494.7"/>
<polyline points="400.0,464.1 407.1,466.5 414.1,464.1 418.8,459.4 425.9,457.1 430.6,454.7 435.3,452.4 432.9,450.0"/>
<polyline points="400.0,504.1 407.1,501.8 411.8,497.1 416.5,494.7 421.2,491.2 430.6,490.0 437.6,487.6 444.7,485.3 449.4,480.6 451.8,478.2 456.5,478.2 463.5,479.4 470.6,480.6 477.6,481.8 484.7,484.1 489.4,486.5 496.5,490.0 501.2,492.4 505.9,490.0 510.6,487.6 515.3,485.3 520.0,487.6 522.4,492.4 527.1,490.0 531.8,482.9 536.5,485.3 538.8,492.4 541.2,499.4 545.9,504.1 550.6,504.1"/>
<polyline points="550.6,504.1 552.9,511.2 555.3,518.2 552.9,525.3 548.2,530.0 545.9,534.7 541.2,539.4 541.2,548.8 545.9,553.5 550.6,560.6 550.6,572.4 555.3,579.4 557.6,586.5 562.4,588.8 560.0,593.5 557.6,600.6 557.6,607.6 552.9,612.4 545.9,612.4 538.8,610.0 534.1,610.0 529.4,614.7 527.1,619.4 529.4,624.1 524.7,626.5 517.6,624.1 510.6,621.8 503.5,624.1 501.2,628.8 498.8,633.5 496.5,635.9 498.8,642.9 501.2,650.0"/>
<polyline points="550.6,504.1 560.0,499.4 569.4,494.7 574.1,487.6 581.2,482.9 588.2,478.2 592.9,475.9 600.0,475.9"/>
<polyline points="557.6,607.6 564.7,612.4 571.8,614.7 578.8,614.7 583.5,612.4 581.2,619.4 576.5,628.8 569.4,633.5 574.1,638.2 578.8,635.9 588.2,631.2 597.6,628.8"/>
<polyline points="411.8,497.1 409.4,506.5 411.8,515.9 414.1,520.6 411.8,527.6 407.1,532.4 404.7,537.1 409.4,541.8 414.1,548.8 416.5,553.5 414.1,562.9 414.1,567.6 421.2,572.4 418.8,579.4 416.5,586.5 421.2,591.2 418.8,598.2 414.1,605.3 411.8,610.0 404.7,612.4 400.0,612.4"/>
<polyline points="418.8,598.2 425.9,600.6 432.9,595.9 442.4,593.5 447.1,591.2 456.5,588.8 463.5,588.8 470.6,591.2 472.9,595.9 475.3,602.9 477.6,610.0 472.9,619.4 470.6,626.5 475.3,631.2 480.0,628.8 482.4,633.5 484.7,638.2 491.8,638.2 496.5,635.9"/>
<polyline points="597.6,457.1 600.0,459.4"/>
<polyline points="600.0,478.2 607.1,475.9 614.1,471.2 618.8,466.5 623.5,466.5 625.9,471.2 625.9,478.2 630.6,473.5 635.3,468.8 640.0,471.2 644.7,471.2 649.4,473.5 654.1,475.9 658.8,478.2 663.5,478.2 668.2,475.9 672.9,473.5 677.6,468.8 682.4,464.1 682.4,457.1"/>
<polyline points="600.0,461.8 602.4,468.8 604.7,473.5 600.0,475.9"/>
<polyline points="665.9,478.2 663.5,485.3 668.2,492.4 672.9,497.1 675.3,501.8 677.6,508.8 680.0,513.5 684.7,511.2 689.4,513.5 691.8,520.6 694.1,527.6 696.5,532.4 703.5,532.4 710.6,530.0 715.3,527.6 717.6,530.0 720.0,534.7 722.4,532.4 727.1,531.2"/>
<polyline points="680.0,513.5 675.3,515.9 668.2,518.2 661.2,520.6 656.5,525.3 651.8,527.6 647.1,530.0 642.4,534.7 644.7,539.4 642.4,544.1 640.0,548.8 640.0,553.5 632.9,555.9 630.6,560.6 632.9,572.4 630.6,577.1 628.2,581.8 628.2,588.8 623.5,593.5 621.2,600.6 618.8,605.3 616.5,612.4 616.5,619.4 618.8,621.8 625.9,619.4 632.9,621.8 640.0,624.1 647.1,628.8 651.8,635.9 654.1,645.3 656.5,650.0"/>
<polyline points="600.0,624.1 609.4,624.1 616.5,628.8 618.8,621.8"/>
<polyline points="208.0,696.4 212.7,700.0 218.2,703.6 223.6,700.0 229.1,694.5 232.7,698.2 238.2,694.5 243.6,698.2 249.1,703.6 252.7,698.2 256.4,694.5 261.8,698.2 265.5,694.5 272.7,692.7 276.4,690.9 278.2,687.3 283.6,683.6 289.1,681.8 294.5,678.2 298.2,683.6 301.8,681.8 305.5,678.2 309.1,676.4 312.7,678.2 316.4,676.4 320.0,670.9 320.0,663.6 316.4,658.2 312.7,658.2 309.1,660.0 303.6,658.2 298.2,658.2 290.9,654.5 289.1,647.3 285.5,647.3 280.0,647.3 276.4,647.3 272.7,643.6 269.1,640.0"/>
<polyline points="312.7,678.2 312.7,685.5 314.5,689.1 318.2,690.9 321.8,692.7 325.5,694.5 330.9,694.5 336.4,696.4 340.0,698.2 338.2,701.8 334.5,705.5 332.7,709.1 334.5,712.7 336.4,720.0 343.6,723.6 349.1,727.3 354.5,729.1 360.0,730.9 367.3,730.9 374.5,732.7 380.0,734.5 387.3,732.7 392.7,729.1 396.4,725.5 400.0,723.6"/>
<polyline points="269.1,640.0 270.9,641.8 276.4,641.8 280.0,640.0"/>
<polyline points="350.9,748.0 358.2,743.6 367.3,739.1 374.5,736.4 381.8,733.6 387.3,731.8"/>
<polyline points="500.0,640.0 501.8,645.5 500.0,650.9 498.2,656.4 494.5,660.0 490.9,663.6 487.3,669.1 485.5,672.7 483.6,678.2 483.6,683.6 481.8,687.3 478.2,690.9 474.5,694.5 469.1,698.2 465.5,700.0 463.6,705.5 463.6,709.1 458.2,710.9 454.5,712.7 452.7,714.5 452.7,720.0 447.3,721.8 443.6,721.8 440.0,725.5 438.2,730.9 436.4,736.4 434.5,741.8 432.7,748.0"/>
<polyline points="554.5,707.3 556.4,703.6 556.4,696.4 554.5,690.9 558.2,689.1 560.0,692.7 561.8,696.4 563.6,700.0 563.6,707.3 570.9,707.3 578.2,707.3 583.6,707.3 585.5,703.6 583.6,698.2 581.8,694.5 578.2,693.6 576.4,694.5 581.8,692.7 587.3,690.9 592.7,687.3 596.4,685.5 600.0,683.6"/>
<polyline points="560.0,712.7 563.6,714.5 570.9,714.5 576.4,712.7"/>
<polyline points="652.7,640.0 654.5,643.6 656.4,647.3 658.2,650.9 658.2,654.5"/>
<polyline points="785.8,587.9 797.7,590.2 800.3,606.9 797.0,627.0 793.6,653.9 785.8,668.4 784.2,686.3 775.8,675.1 764.6,671.7 755.6,656.1 753.4,641.6 762.3,622.6 773.5,598.0 785.8,587.9"/>
<polyline points="580.0,142.9 582.4,145.9 587.1,149.4 590.6,151.8 595.3,152.9 600.0,151.8 597.6,155.3 596.5,158.8 597.6,162.4 601.2,164.7 598.8,168.2 595.3,170.6 591.8,170.6 588.2,171.8 587.1,175.3 589.4,178.8 590.6,183.5 588.2,185.9 583.5,187.1 580.0,189.4 575.3,188.2 570.6,187.1 567.1,188.2 563.5,189.4 557.6,187.1 555.3,183.5 554.1,178.8 555.3,174.1 560.0,171.8 563.5,169.4 564.7,167.1 562.4,163.5 560.0,161.2 562.4,157.6 567.1,156.5 569.4,154.1 571.8,150.6 572.9,147.1 576.5,144.7 580.0,142.9"/>
<polyline points="587.1,171.8 591.8,170.6 596.5,169.4 598.8,168.2 598.8,172.9 597.6,178.8 596.5,182.4 592.9,183.5 590.6,185.9 591.8,190.6 592.9,195.3 595.3,197.6 591.8,200.0 590.6,204.7 591.8,210.6 596.5,211.8 601.2,212.9 605.9,212.9 609.4,211.8 611.8,209.4 611.8,204.7 612.9,200.0 616.5,194.1 620.0,190.6"/>
<polyline points="601.2,164.7 605.9,167.1 609.4,169.4 610.6,171.8"/>
<polyline points="612.9,200.0 612.9,209.4 615.3,214.1 617.6,220.0"/>
<polyline points="540.0,129.4 543.5,130.6 547.1,127.1 551.8,123.5 555.3,120.0"/>
<polyline points="556.6,704.8 562.9,707.9 577.3,707.0 585.2,706.4 586.8,700.0 583.6,696.8"/>
<polyline points="734.9,397.7 742.4,400.9 748.9,402.6 757.2,403.4 753.9,400.1 745.7,398.5 737.4,396.8 734.9,397.7"/>
<polyline points="660.0,381.2 666.6,379.5 668.2,374.6 671.5,372.9 676.5,374.6 679.8,379.5 678.1,384.5 673.2,386.1 669.9,389.4 666.6,391.1"/>
<polyline points="681.4,422.4 689.6,420.7 696.2,420.7 701.2,422.4 706.1,424.0 709.4,425.7 716.0,427.3 722.6,425.7 725.9,428.9 729.2,425.7 732.5,422.4 735.8,420.7 737.4,419.1 737.4,412.5 739.1,405.9"/>
<polyline points="699.5,422.4 699.5,428.9 697.9,433.9 696.2,438.8 692.9,440.5 694.6,443.8 692.9,447.1 686.4,448.7"/>
<polyline points="684.7,455.3 683.1,461.9 681.4,468.5 678.1,471.8 674.8,475.1 669.9,480.0"/>
<polyline points="735.8,419.1 739.1,425.7 742.4,428.9"/>
<polyline points="774.0,454.4 773.7,456.0 772.4,457.3 772.3,457.8 770.9,457.6 769.3,457.7 771.0,458.3"/>
<polyline points="777.1,447.8 777.8,448.4 776.3,446.2 776.4,444.3 775.0,443.1 773.0,443.0 772.7,444.5"/>
<polyline points="775.4,457.6 773.2,455.8 773.9,455.4 774.1,457.3 772.3,456.2 773.4,456.2 771.4,456.5"/>
<polyline points="766.4,436.3 765.9,438.3 767.4,436.1 766.1,437.9 766.0,440.0 765.5,438.2"/>
<polyline points="777.8,463.1 777.1,462.3 775.0,461.9 776.9,460.3 777.8,458.2 777.6,458.1"/>
<polyline points="779.0,439.5 781.1,440.7 780.8,440.2 780.3,442.4 778.1,444.0"/>
<polyline points="785.4,455.7 784.2,455.2 785.7,455.9 784.0,458.0"/>
<polyline points="768.7,442.3 770.1,441.8 768.3,440.5 768.9,438.4 768.3,439.0 766.7,439.3"/>
<polyline points="782.3,437.4 780.9,435.9 782.7,437.3 781.6,435.9 782.7,437.9 781.3,439.9 783.0,440.3"/>
<polyline points="773.3,436.2 773.3,435.1 774.4,434.6 774.0,436.4"/>
<polyline points="774.8,452.8 773.2,452.7 773.8,453.2 772.0,452.0"/>
<polyline points="784.1,462.0 783.1,461.7 781.2,460.3 780.6,460.6"/>
<polyline points="766.9,446.5 769.0,447.2 769.9,447.5 768.3,445.5 766.1,447.3 767.0,449.3 764.9,449.9"/>
<polyline points="774.6,461.2 773.0,459.3 772.8,458.8 770.8,460.7 771.8,459.0 773.9,458.3"/>
<polyline points="765.9,450.9 767.5,450.6 768.8,452.2 769.1,452.7"/>
<polyline points="772.4,455.3 770.6,455.9 772.7,457.6 773.7,457.1"/>
<polyline points="780.2,455.2 780.0,455.4 780.1,455.5 779.3,453.7 777.2,455.7 775.4,456.9 776.2,456.9"/>
<polyline points="783.7,446.7 784.5,445.4 783.1,447.2 783.8,446.9 785.5,446.2"/>
<polyline points="778.6,439.9 780.0,441.1 778.7,439.8 777.4,441.7 776.2,440.0 775.5,441.8 773.5,439.9"/>
<polyline points="785.6,464.9 785.4,463.9 784.1,463.5 784.6,463.5"/>
<polyline points="770.9,465.6 770.1,467.0 769.2,467.5 770.0,466.5 769.3,467.2 769.6,467.8 769.2,466.4"/>
<polyline points="780.9,442.7 782.2,444.8 780.5,443.1 780.7,443.7 780.1,441.8"/>
<polyline points="768.4,465.0 766.9,462.8 766.8,463.7 765.4,462.7 764.7,463.6 764.8,464.1"/>
<polyline points="780.6,447.7 778.8,449.6 779.8,448.0 779.6,448.6 781.4,448.0"/>
<polyline points="776.5,467.2 776.4,467.8 775.1,468.8 776.5,469.4 777.4,468.2 779.2,470.3"/>
<polyline points="785.5,453.5 784.5,454.4 782.3,454.5 780.3,453.8 779.9,452.8 781.8,451.5"/>
<polyline points="757.1,487.2 755.7,486.4 757.0,484.8 755.4,484.9"/>
<polyline points="755.1,503.6 757.1,503.6 759.1,501.7 757.8,501.9 756.9,502.9 757.5,503.0 759.0,503.2"/>
<polyline points="749.4,485.2 748.5,483.7 748.7,482.7 748.7,482.3 747.0,480.1"/>
<polyline points="750.3,491.5 750.3,491.1 751.7,491.4 751.6,492.2"/>
<polyline points="745.9,491.5 747.8,492.9 747.4,491.8 747.3,491.0 749.1,493.0 750.9,493.1 749.2,492.7"/>
<polyline points="745.4,480.4 743.4,478.9 741.2,477.9 742.2,476.8"/>
<polyline points="752.0,490.0 753.5,490.5 754.5,491.4 756.2,489.3"/>
<polyline points="753.9,503.0 754.0,504.6 754.2,503.4 752.9,503.6 753.3,502.0"/>
<polyline points="757.8,495.1 759.6,494.3 758.8,496.2 757.5,498.4 759.2,496.7 758.1,497.7"/>
<polyline points="748.6,473.9 748.8,474.8 747.5,475.3 748.8,473.6 749.1,472.9 750.5,472.3 751.4,472.9"/>
<polyline points="749.8,509.9 751.1,509.9 749.0,511.0 749.5,512.8 749.5,511.4"/>
<polyline points="746.6,476.9 748.8,478.8 747.0,476.9 749.0,476.7 750.1,475.9"/>
<polyline points="751.5,490.6 750.3,490.1 750.9,488.0 749.5,487.6 748.9,487.1 750.8,487.5 749.0,488.8"/>
<polyline points="749.5,473.4 749.8,472.0 750.2,471.3 751.4,470.4 749.7,471.4 748.2,473.3 746.6,472.6"/>
<polyline points="730.6,534.8 731.8,534.4 732.8,532.5 732.1,532.4 729.9,531.7 730.5,532.3 729.4,534.2"/>
<polyline points="732.7,533.5 733.0,533.7 732.5,535.9 733.1,536.7 734.3,538.9 732.2,539.4 733.2,538.3"/>
<polyline points="728.4,522.0 729.1,519.9 728.0,518.9 727.3,519.1 726.9,519.1"/>
<polyline points="735.5,524.0 736.9,522.1 737.3,523.3 735.3,525.2 733.8,525.0 732.4,525.0 732.9,523.1"/>
<polyline points="737.1,536.8 737.6,536.2 736.6,536.9 736.9,536.0 737.8,535.1 735.7,533.9 733.7,532.4"/>
<polyline points="734.1,535.6 735.2,533.6 737.3,535.6 735.4,537.4 735.1,537.3 737.2,536.1"/>
<polyline points="730.4,557.5 728.8,559.5 727.7,560.4 725.7,560.1 724.0,561.6 723.4,560.1 722.8,558.5"/>
<polyline points="728.7,544.0 728.1,545.1 729.5,543.5 728.5,541.9 728.5,541.9 727.6,541.9 729.1,540.9"/>
<polyline points="731.8,549.0 732.3,550.1 731.0,549.0 733.1,550.8 734.8,548.8"/>
<polyline points="723.0,530.8 720.9,528.8 719.7,527.8 720.8,529.6 719.3,528.5 721.4,528.4 720.8,527.7"/>
<polyline points="729.9,525.3 731.2,525.1 732.7,526.6 733.8,526.3"/>
<polyline points="734.0,535.6 733.4,536.3 735.5,535.5 735.7,536.6 737.6,536.3"/>
<polyline points="727.9,523.9 726.1,522.0 726.3,522.0 727.2,521.1 728.4,519.2 727.1,519.9"/>
<polyline points="723.3,532.2 722.4,530.6 721.7,531.6 721.1,529.9 722.1,530.2 723.9,532.1"/>
<polyline points="736.6,537.5 736.4,536.3 738.5,537.3 738.6,535.5 740.0,533.4 740.8,533.8"/>
<polyline points="734.7,549.6 736.0,549.7 737.5,550.0 736.1,551.1 737.8,550.2 735.7,550.3"/>
<polyline points="730.7,542.7 731.4,544.0 729.5,544.2 730.7,542.4"/>
<polyline points="723.3,549.5 721.5,550.1 719.9,551.2 720.6,550.0 719.3,551.2 719.4,552.4"/>
<polyline points="728.3,533.5 729.1,533.5 729.2,534.5 730.1,536.3 729.8,537.7 730.5,539.3"/>
<polyline points="734.9,553.4 736.9,554.0 737.0,554.9 738.3,554.5 738.0,553.0 739.1,555.2 738.5,553.7"/>
<polyline points="725.3,537.0 724.3,538.7 724.1,539.7 723.3,538.2 725.1,540.0 726.2,537.9"/>
<polyline points="729.7,552.0 728.0,550.6 726.7,549.5 727.7,549.9 726.5,548.5 725.5,547.1"/>
<polyline points="723.6,569.4 725.2,569.3 724.7,571.3 725.4,572.5 723.6,574.1 723.2,572.8 721.6,574.1"/>
<polyline points="726.7,583.8 727.9,581.9 729.8,583.6 731.4,585.4 731.2,584.3 730.9,585.9"/>
<polyline points="718.8,583.2 717.8,584.8 717.8,585.4 720.0,584.4 720.2,582.8"/>
<polyline points="723.8,560.0 725.2,558.2 724.2,559.2 722.4,559.1 722.3,561.1"/>
<polyline points="721.2,585.7 719.1,584.3 717.7,585.1 719.0,584.9 716.9,584.5 716.9,586.5"/>
<polyline points="726.5,569.5 724.6,568.6 724.5,569.6 723.9,570.4 722.1,569.9 722.0,572.0 723.4,572.7"/>
<polyline points="713.2,571.3 712.0,571.6 711.8,569.4 714.0,570.8 712.7,571.3 711.8,570.7 712.0,569.8"/>
<polyline points="717.7,571.8 716.7,570.4 717.7,569.7 719.6,570.0"/>
<polyline points="723.1,569.9 721.3,568.4 719.6,569.2 720.5,567.7 720.0,569.2 720.4,567.4 719.2,565.9"/>
<polyline points="714.7,572.2 714.0,573.6 715.9,572.0 714.6,570.5"/>
<polyline points="722.7,574.5 723.2,575.5 723.7,574.7 725.0,573.6 727.1,573.7 726.1,572.3 725.2,572.1"/>
<polyline points="720.8,566.1 722.1,567.6 722.6,566.1 723.7,567.8 723.9,567.2 723.9,565.6"/>
<polyline points="710.0,611.7 710.3,609.7 711.0,610.9 709.4,610.8 709.0,610.0"/>
<polyline points="701.3,609.5 701.1,607.8 703.2,606.2 705.0,606.4 705.3,606.6 704.2,608.5"/>
<polyline points="713.9,608.4 712.2,609.8 711.3,611.5 710.2,611.8 711.6,610.5"/>
<polyline points="707.7,593.5 707.2,594.8 709.1,597.0 707.5,598.1"/>
<polyline points="711.9,610.1 710.4,609.7 708.3,609.9 706.6,609.4"/>
<polyline points="704.7,594.6 705.0,593.9 705.6,591.9 706.4,590.3 708.4,590.7"/>
<polyline points="706.6,600.2 707.7,600.2 709.9,601.7 711.4,601.3 711.1,601.5 712.9,601.7 713.0,601.4"/>
<polyline points="712.7,598.4 711.8,598.9 711.5,598.4 710.7,599.7"/>
<polyline points="712.4,609.5 710.7,609.3 710.7,608.9 708.7,609.7 708.9,608.6"/>
<polyline points="704.3,599.9 706.0,602.1 707.0,603.7 706.4,603.9 706.7,602.5"/>
<polyline points="709.1,600.4 710.9,598.7 712.2,597.0 712.3,599.0"/>
<polyline points="700.0,596.9 697.9,595.4 697.7,595.2 697.8,593.6 698.6,592.5 697.8,592.3"/>
<polyline points="676.2,627.8 678.1,629.9 677.9,628.6 677.0,630.5 678.8,629.2"/>
<polyline points="689.8,628.4 687.7,629.0 688.5,629.2 688.7,628.1 690.7,630.2 691.3,629.3 692.7,631.3"/>
<polyline points="675.1,629.6 674.4,631.6 675.6,631.2 674.2,632.8 672.5,633.6"/>
<polyline points="675.0,635.0 676.3,634.4 677.0,636.1 677.4,634.9 676.5,636.8 677.2,635.8"/>
<polyline points="684.6,623.6 684.4,623.7 684.5,621.7 684.9,620.8"/>
<polyline points="674.5,636.5 673.0,638.6 671.7,637.2 672.7,635.1"/>
<polyline points="688.5,624.7 689.1,626.5 689.5,624.4 691.2,622.4"/>
<polyline points="669.7,636.0 668.9,635.9 666.8,635.0 668.3,635.6 670.4,636.7 670.5,637.1"/>
<polyline points="688.1,624.0 686.9,623.8 688.1,625.0 689.4,623.9 689.3,622.6 689.7,622.6 687.6,623.0"/>
<polyline points="686.6,632.3 685.8,632.8 686.3,634.1 686.3,635.1 687.9,633.0"/>
<polyline points="671.0,625.2 671.5,623.2 671.2,624.1 672.6,625.2 673.8,626.3"/>
<polyline points="681.0,633.7 680.4,632.6 680.4,633.3 680.8,633.1 680.0,632.9"/>
<polyline points="655.4,649.9 653.7,651.0 654.2,649.4 655.3,649.5"/>
<polyline points="661.7,640.0 663.4,638.5 662.9,637.6 662.6,635.7 660.5,637.9 661.7,638.9 660.5,637.8"/>
<polyline points="652.1,643.4 650.3,642.2 649.5,644.1 651.3,642.9 649.8,643.3 652.0,644.3 652.3,646.1"/>
<polyline points="659.5,652.9 659.3,652.5 660.8,651.9 662.0,650.7 661.4,649.3"/>
<polyline points="652.1,642.3 651.7,642.7 652.8,642.6 652.8,643.1 651.3,643.1"/>
<polyline points="651.9,645.9 652.7,645.3 651.7,643.1 650.3,642.1"/>
<polyline points="648.6,652.9 647.6,652.3 646.1,654.2 645.5,655.4 646.5,657.2"/>
<polyline points="640.4,644.5 640.2,646.1 639.7,645.0 641.4,645.7 640.5,646.2 640.5,644.8 640.5,643.2"/>
<polyline points="598.3,676.2 598.5,674.6 599.4,673.6 600.4,674.3 598.9,673.0 597.9,673.9 597.5,673.4"/>
<polyline points="624.6,672.5 624.1,673.0 622.5,674.5 623.6,674.5 621.4,675.6 622.5,676.3"/>
<polyline points="592.7,685.1 593.4,687.1 595.0,685.9 595.6,684.1 595.3,683.6 593.4,683.1"/>
<polyline points="603.1,677.9 601.9,679.8 600.6,681.0 599.9,681.9 600.0,683.0 601.8,684.3"/>
<polyline points="609.1,673.1 610.0,671.0 609.5,670.4 607.6,670.0 605.7,670.0 606.0,669.9"/>
<polyline points="603.0,673.1 601.0,672.3 600.4,671.4 601.8,673.1"/>
<polyline points="615.7,675.7 617.7,675.1 618.0,677.0 619.2,677.6 619.8,677.2 619.4,676.2"/>
<polyline points="623.2,685.6 625.2,685.1 626.6,685.9 625.6,685.9 625.5,683.8 625.9,682.8 624.9,681.5"/>
<polyline points="610.8,686.5 608.6,686.7 610.2,687.9 608.3,689.3 610.0,690.2 611.3,689.1 609.6,687.0"/>
<polyline points="622.2,672.2 623.0,674.2 624.5,672.7 625.0,672.7 625.3,672.1 624.3,673.2 624.5,672.0"/>
<polyline points="600.0,674.5 601.8,675.5 603.5,677.7 604.9,679.4 604.0,680.9"/>
<polyline points="610.5,681.6 609.0,683.2 610.6,681.2 609.6,681.3"/>
<polyline points="571.9,700.5 571.3,701.3 569.9,702.9 568.6,703.1 567.0,705.3 567.6,703.6"/>
<polyline points="569.6,698.8 568.0,698.2 568.7,697.0 567.3,694.9 567.7,696.8"/>
<polyline points="578.8,696.9 578.5,697.5 578.0,699.4 580.2,697.4 581.1,695.7 579.1,694.8"/>
<polyline points="569.2,708.9 568.8,710.7 570.3,712.3 568.8,710.4"/>
<polyline points="557.6,707.2 556.3,708.2 555.9,706.6 556.3,707.3 555.0,706.4 556.6,706.1"/>
<polyline points="573.4,702.8 575.0,702.5 573.5,704.2 572.5,704.5 571.5,704.0 570.7,702.2"/>
<polyline points="548.0,702.7 546.5,700.6 547.7,701.3 545.5,700.6"/>
<polyline points="545.6,706.0 545.5,705.7 546.9,705.2 544.9,705.4 545.6,706.0 544.6,707.9 546.2,710.1"/>
<polyline points="557.7,706.7 556.3,704.6 554.8,702.9 553.0,702.3"/>
<polyline points="570.1,699.3 568.0,698.1 570.0,695.9 570.1,697.3 571.4,698.3 571.0,699.6 572.4,700.8"/>
<polyline points="579.4,696.4 579.0,697.3 577.9,699.1 575.8,699.5 574.6,699.0 574.0,699.7 575.4,699.1"/>
<polyline points="565.5,700.0 563.6,700.6 564.0,699.6 562.8,698.2 560.8,696.6 559.9,695.3"/>
<polyline points="553.9,697.2 553.2,696.9 551.1,696.9 550.7,696.1 550.8,698.1 549.5,699.8"/>
<polyline points="552.8,705.6 553.2,704.8 553.1,706.7 553.1,707.9"/>
<polyline points="523.3,723.4 524.0,725.3 523.3,724.0 522.6,726.1"/>
<polyline points="478.9,720.9 480.7,718.9 481.2,718.2 480.9,719.2 480.6,721.3 482.5,719.6 483.5,720.7"/>
<polyline points="496.2,718.5 496.2,718.0 496.4,716.0 498.2,716.1 498.0,715.2 496.0,713.2 495.2,713.4"/>
<polyline points="489.7,715.6 488.3,715.4 488.5,713.5 490.6,714.6 492.4,712.9 491.0,714.7"/>
<polyline points="517.4,714.0 518.7,714.0 520.9,712.1 522.5,713.1"/>
<polyline points="485.0,723.3 483.8,721.2 483.4,721.1 485.5,720.0 483.7,719.7 484.9,721.4 483.0,721.3"/>
<polyline points="473.4,724.2 474.7,722.6 474.1,720.9 472.0,720.2"/>
<polyline points="521.9,723.7 521.5,724.2 519.5,725.0 519.3,724.9"/>
<polyline points="475.3,721.1 477.0,722.1 475.6,722.8 475.3,720.7 474.6,719.9 475.2,718.9"/>
<polyline points="506.2,721.7 507.4,720.3 507.7,718.3 506.7,717.2 506.0,717.7"/>
<polyline points="488.4,712.1 489.3,713.2 488.7,712.3 488.3,710.8"/>
<polyline points="507.9,717.9 506.9,716.3 505.2,714.6 505.3,714.2 505.3,712.5 503.6,714.2 505.6,712.3"/>
<polyline points="508.9,715.2 508.4,716.2 508.9,716.0 506.9,715.6 506.0,715.4 508.0,714.5 508.8,715.2"/>
<polyline points="484.7,717.8 485.1,719.4 484.6,718.4 482.9,720.1 484.0,718.3"/>
<polyline points="799.7,468.6 797.9,468.0 797.4,469.0 798.1,468.3 799.9,470.3"/>
<polyline points="780.7,474.0 778.8,472.5 778.8,472.5 779.5,470.5 778.3,468.4 779.6,468.1 778.4,468.3"/>
<polyline points="783.3,456.7 784.0,458.0 785.9,458.1 786.3,458.1 787.7,458.1 785.9,459.4 783.8,461.5"/>
<polyline points="800.9,478.6 801.6,480.7 801.5,482.3 801.2,480.8 800.6,480.2 802.1,481.9"/>
<polyline points="783.3,467.4 784.5,465.6 786.7,465.9 784.8,464.7"/>
<polyline points="799.9,470.3 799.0,471.5 797.9,471.1 795.9,469.9 795.7,470.1 795.5,471.7"/>
<polyline points="783.1,480.5 781.6,480.8 780.1,481.3 782.2,482.2 780.5,483.7"/>
<polyline points="786.9,478.9 787.9,479.8 786.4,480.0 784.3,478.3"/>
<polyline points="271.9,262.6 276.8,262.6 283.4,260.9 291.7,257.7 301.5,254.4 311.4,252.7 314.7,249.4"/>
<polyline points="591.8,400.0 592.9,405.5 594.0,410.9 593.5,416.4 588.5,419.6 584.2,422.9 580.9,426.2 583.1,430.5 586.4,434.9 591.8,437.1 598.4,439.3 601.6,441.5 597.3,445.8 595.1,450.2 598.4,454.5 599.5,460.0"/>
<polyline points="570.0,426.7 574.4,426.2 577.6,428.9 580.9,426.2"/>
<polyline points="660.5,400.0 661.6,404.4 664.9,406.5 668.2,410.9 672.5,413.1 676.9,417.5 674.7,421.8 679.1,424.0 685.6,421.8 690.0,420.7"/>
<polyline points="683.5,449.1 682.4,454.5 683.5,460.0"/>
</g>
<g fill="none" stroke="#000" stroke-width="2.2" stroke-linejoin="round">
</g>
<g fill="none" stroke="#000" stroke-width="1.1" stroke-linejoin="round">
<polyline points="671.3,310.6 673.5,312.0 672.8,315.4 676.6,315.5 676.1,318.8 677.9,319.9 680.7,319.2 682.3,322.2 685.3,320.6 687.1,323.2 690.0,321.9 692.3,322.6 694.2,324.9 695.9,327.7 699.4,325.0 702.5,327.0 701.8,330.3 701.4,333.4 704.3,334.9 706.4,336.8 704.8,340.7 710.4,341.3 707.9,346.0 712.0,346.8 714.2,348.9 716.0,351.3 716.8,354.3 716.3,358.2 720.7,358.8 720.6,362.5 721.9,364.9 724.0,367.0 724.0,369.7 727.2,371.4 726.9,372.5 729.9,374.9 731.0,378.2 733.7,378.1 736.3,378.7 738.0,381.5 740.9,382.7 742.7,385.1 744.3,388.4 747.0,388.7 750.2,387.3 752.0,389.7 753.8,391.2 753.7,393.3 755.2,395.6 757.7,398.6 754.5,396.9 751.2,400.7 749.4,398.6 747.5,396.3 744.9,399.2 742.9,397.2 741.3,399.2 736.6,397.8 736.6,400.7 738.1,403.2 738.6,407.8 741.5,405.5 743.2,408.0 745.5,408.0 747.7,408.5 750.1,408.4 751.0,410.4 752.3,412.5 755.6,412.4 756.6,414.7 760.4,414.2 759.7,418.2 761.6,418.5 758.7,418.9 758.4,420.7 756.9,424.0 754.6,424.0 752.0,423.2 750.6,427.0 747.9,425.3 746.9,426.9 745.4,428.7 744.0,430.6 739.7,429.6 740.9,432.9 739.5,435.1 737.8,437.6 734.4,437.5 734.8,442.5 731.7,441.6 729.1,441.9 725.4,445.7 727.7,445.9 729.8,446.7 733.1,444.5 735.2,446.7 737.2,448.0 740.5,449.8 743.1,449.3 744.3,444.5 746.4,444.0 749.0,442.6 753.0,441.0 754.8,443.7 756.9,445.7 759.7,446.2 760.5,446.1 762.9,448.3 766.0,448.3 766.8,451.4 766.5,452.9 767.0,455.8 767.0,458.6 765.9,460.6 765.1,462.8 767.5,466.2 762.5,466.5 761.9,468.9 760.2,472.2 761.2,474.8 763.8,477.2 764.2,479.7 766.9,481.1 766.0,484.8 769.9,485.4 771.3,490.1 769.1,492.0 767.7,494.5 765.1,496.6 763.4,499.1 761.8,500.1 759.7,501.1 758.3,502.8 756.0,503.2 756.9,506.1 751.9,507.0 752.4,509.7 752.9,513.4 750.9,515.4 749.0,517.3 748.1,519.6 748.5,522.4 744.6,522.8 742.5,523.9 742.9,527.4 741.2,528.9 739.8,531.9 737.4,533.0 734.5,533.1 732.3,534.6 728.6,533.2 728.6,536.7 728.1,539.3 722.5,541.3 725.4,543.0 728.0,544.7 726.9,547.7 730.4,548.9 729.3,552.3 726.6,554.3 726.8,556.7 727.2,559.2 729.1,562.0 728.1,564.2 728.8,566.2 726.1,569.1 727.7,571.2 726.8,573.8 729.5,575.7 730.4,578.0 728.0,581.3 728.3,584.1 730.0,584.7 729.5,587.1 728.6,589.5 729.0,591.2 727.5,594.5 724.7,593.8 722.1,595.4 719.2,596.2 716.9,595.5 715.8,593.4 713.5,594.6 709.7,594.3 707.3,596.0 708.4,599.6 705.1,599.4 703.3,600.8 702.6,606.3 705.2,604.9 704.8,607.3 703.7,609.4 702.6,611.9 701.0,614.0 697.7,614.8 694.9,616.0 693.6,618.3 693.5,621.6 691.5,622.9 689.0,623.3 688.5,627.7 685.1,626.1 682.4,626.0 680.5,627.6 678.3,629.0 677.0,631.7 675.8,634.5 671.4,634.1 672.4,637.3 669.2,638.3 667.3,640.0 669.0,643.5 667.9,645.6 664.5,646.1 663.8,648.9 664.5,652.8 663.0,655.2 661.3,656.7 656.9,655.6 655.5,657.7 656.7,661.9 652.3,661.9 650.0,663.5 649.8,666.6 649.5,669.7 647.1,671.2 646.3,674.5 644.5,676.6 640.1,673.8 638.3,676.2 636.1,677.6 633.0,676.4 631.5,679.6 628.4,678.3 626.0,679.3 624.7,683.1 622.0,683.8 619.6,684.0 617.3,684.6 614.6,683.2 612.6,685.3 609.2,685.3 606.4,687.5 602.2,684.4 599.7,688.0 596.4,688.3 593.0,688.5 590.1,688.0 589.1,691.3 586.3,689.9 583.6,692.8 580.4,693.5 578.5,694.8 578.0,698.3 574.9,697.7 573.7,700.1 569.7,702.3 569.5,697.5 565.9,699.4 564.4,696.9 564.5,694.2 562.7,692.4 561.4,691.4 558.2,690.4 554.7,690.6 554.7,693.2 558.9,693.8 557.9,696.8 558.9,699.7 558.3,702.3 555.6,703.8 555.0,706.3 553.2,707.7 551.1,708.4 548.7,709.0 548.2,712.3 545.8,712.9 544.2,714.6 542.2,715.8 539.4,716.2 537.6,718.5 535.0,719.3 532.7,720.8 530.7,718.0 528.1,718.9 525.9,717.6 522.8,716.8 521.0,720.7 518.4,719.6 515.6,718.0 513.0,719.0 512.2,723.2 510.1,724.1 507.4,723.3 505.9,725.9 503.5,725.9 501.4,727.6 498.1,725.2 495.5,725.3 492.8,725.4 491.2,729.7 487.8,727.6 485.8,728.6 484.6,732.0 481.1,729.2 478.8,729.5 478.1,734.0 474.6,731.2 473.5,734.7 471.2,735.1 468.2,733.4 466.4,735.0 465.5,739.0 462.9,738.5 460.6,739.4 458.9,741.5 457.2,743.5 454.7,744.3 451.5,743.8 450.0,746.1"/>
</g>
<g fill="none" stroke="#8a14ee" stroke-width="2.1">
<circle cx="326.6" cy="232.4" r="5"/>
<circle cx="458.8" cy="159.4" r="5"/>
<circle cx="459.1" cy="159.1" r="5"/>
<circle cx="537.3" cy="235.8" r="5"/>
<circle cx="486.9" cy="244.5" r="5"/>
<circle cx="578.2" cy="176.4" r="5"/>
<circle cx="734.1" cy="94.7" r="5"/>
<circle cx="601.8" cy="196.5" r="5"/>
<circle cx="258.8" cy="302.9" r="5"/>
<circle cx="523.5" cy="334.7" r="5"/>
<circle cx="605.9" cy="270.7" r="5"/>
<circle cx="671.8" cy="399.4" r="5"/>
<circle cx="630.6" cy="411.2" r="5"/>
<circle cx="748.2" cy="411.2" r="5"/>
<circle cx="718.8" cy="445.3" r="5"/>
<circle cx="261.2" cy="461.8" r="5"/>
<circle cx="331.8" cy="497.1" r="5"/>
<circle cx="336.5" cy="584.6" r="5"/>
<circle cx="213.4" cy="626.9" r="5"/>
<circle cx="553.4" cy="458.2" r="5"/>
<circle cx="521.9" cy="530.0" r="5"/>
<circle cx="604.7" cy="508.8" r="5"/>
<circle cx="714.6" cy="572.8" r="5"/>
<circle cx="387.3" cy="694.5" r="5"/>
<circle cx="541.8" cy="678.2" r="5"/>
</g>
</g>
<rect x="207" y="50" width="686" height="700" fill="none" stroke="#000" stroke-width="2"/>
<line x1="197" y1="64.5" x2="206" y2="64.5" stroke="#000" stroke-width="1.3"/>
<text x="145" y="72.7" style="font-family:&quot;Liberation Serif&quot;,&quot;Noto Serif CJK SC&quot;,serif;font-size:21px" fill="#ff3030" textLength="47.5" lengthAdjust="spacingAndGlyphs">44°N</text>
<line x1="197" y1="153.5" x2="206" y2="153.5" stroke="#000" stroke-width="1.3"/>
<text x="145" y="161.7" style="font-family:&quot;Liberation Serif&quot;,&quot;Noto Serif CJK SC&quot;,serif;font-size:21px" fill="#ff3030" textLength="47.5" lengthAdjust="spacingAndGlyphs">41°N</text>
<line x1="197" y1="242.5" x2="206" y2="242.5" stroke="#000" stroke-width="1.3"/>
<text x="145" y="250.7" style="font-family:&quot;Liberation Serif&quot;,&quot;Noto Serif CJK SC&quot;,serif;font-size:21px" fill="#ff3030" textLength="47.5" lengthAdjust="spacingAndGlyphs">38°N</text>
<line x1="197" y1="331" x2="206" y2="331" stroke="#000" stroke-width="1.3"/>
<text x="145" y="339.2" style="font-family:&quot;Liberation Serif&quot;,&quot;Noto Serif CJK SC&quot;,serif;font-size:21px" fill="#ff3030" textLength="47.5" lengthAdjust="spacingAndGlyphs">35°N</text>
<line x1="197" y1="420" x2="206" y2="420" stroke="#000" stroke-width="1.3"/>
<text x="145" y="428.2" style="font-family:&quot;Liberation Serif&quot;,&quot;Noto Serif CJK SC&quot;,serif;font-size:21px" fill="#ff3030" textLength="47.5" lengthAdjust="spacingAndGlyphs">32°N</text>
<line x1="197" y1="509" x2="206" y2="509" stroke="#000" stroke-width="1.3"/>
<text x="145" y="517.2" style="font-family:&quot;Liberation Serif&quot;,&quot;Noto Serif CJK SC&quot;,serif;font-size:21px" fill="#ff3030" textLength="47.5" lengthAdjust="spacingAndGlyphs">29°N</text>
<line x1="197" y1="598" x2="206" y2="598" stroke="#000" stroke-width="1.3"/>
<text x="145" y="606.2" style="font-family:&quot;Liberation Serif&quot;,&quot;Noto Serif CJK SC&quot;,serif;font-size:21px" fill="#ff3030" textLength="47.5" lengthAdjust="spacingAndGlyphs">26°N</text>
<line x1="197" y1="687" x2="206" y2="687" stroke="#000" stroke-width="1.3"/>
<text x="145" y="695.2" style="font-family:&quot;Liberation Serif&quot;,&quot;Noto Serif CJK SC&quot;,serif;font-size:21px" fill="#ff3030" textLength="47.5" lengthAdjust="spacingAndGlyphs">23°N</text>
<line x1="215.3" y1="751" x2="215.3" y2="761" stroke="#000" stroke-width="1.3"/>
<text x="196.5" y="782.6" style="font-family:&quot;Liberation Serif&quot;,&quot;Noto Serif CJK SC&quot;,serif;font-size:21px" fill="#ff3030" textLength="58" lengthAdjust="spacingAndGlyphs">103°E</text>
<line x1="313.2" y1="751" x2="313.2" y2="761" stroke="#000" stroke-width="1.3"/>
<text x="294.4" y="782.6" style="font-family:&quot;Liberation Serif&quot;,&quot;Noto Serif CJK SC&quot;,serif;font-size:21px" fill="#ff3030" textLength="58" lengthAdjust="spacingAndGlyphs">106°E</text>
<line x1="411.3" y1="751" x2="411.3" y2="761" stroke="#000" stroke-width="1.3"/>
<text x="392.5" y="782.6" style="font-family:&quot;Liberation Serif&quot;,&quot;Noto Serif CJK SC&quot;,serif;font-size:21px" fill="#ff3030" textLength="58" lengthAdjust="spacingAndGlyphs">109°E</text>
<line x1="508.4" y1="751" x2="508.4" y2="761" stroke="#000" stroke-width="1.3"/>
<text x="489.59999999999997" y="782.6" style="font-family:&quot;Liberation Serif&quot;,&quot;Noto Serif CJK SC&quot;,serif;font-size:21px" fill="#ff3030" textLength="58" lengthAdjust="spacingAndGlyphs">112°E</text>
<line x1="606.3" y1="751" x2="606.3" y2="761" stroke="#000" stroke-width="1.3"/>
<text x="587.5" y="782.6" style="font-family:&quot;Liberation Serif&quot;,&quot;Noto Serif CJK SC&quot;,serif;font-size:21px" fill="#ff3030" textLength="58" lengthAdjust="spacingAndGlyphs">115°E</text>
<line x1="703.3" y1="751" x2="703.3" y2="761" stroke="#000" stroke-width="1.3"/>
<text x="684.5" y="782.6" style="font-family:&quot;Liberation Serif&quot;,&quot;Noto Serif CJK SC&quot;,serif;font-size:21px" fill="#ff3030" textLength="58" lengthAdjust="spacingAndGlyphs">118°E</text>
<line x1="801.1" y1="751" x2="801.1" y2="761" stroke="#000" stroke-width="1.3"/>
<text x="782.3000000000001" y="782.6" style="font-family:&quot;Liberation Serif&quot;,&quot;Noto Serif CJK SC&quot;,serif;font-size:21px" fill="#ff3030" textLength="58" lengthAdjust="spacingAndGlyphs">121°E</text>
<line x1="892.4" y1="751" x2="892.4" y2="761" stroke="#000" stroke-width="1.3"/>
<text x="873.6" y="782.6" style="font-family:&quot;Liberation Serif&quot;,&quot;Noto Serif CJK SC&quot;,serif;font-size:21px" fill="#ff3030" textLength="58" lengthAdjust="spacingAndGlyphs">124°E</text>
<rect x="956.5" y="127.30" width="40" height="50.88" fill="#92d050" stroke="#000" stroke-width="1.2"/>
<rect x="956.5" y="178.18" width="40" height="49.48" fill="#6aaa3a" stroke="#000" stroke-width="1.2"/>
<rect x="956.5" y="227.66" width="40" height="49.48" fill="#f5f56e" stroke="#000" stroke-width="1.2"/>
<rect x="956.5" y="277.14" width="40" height="49.48" fill="#ffe600" stroke="#000" stroke-width="1.2"/>
<rect x="956.5" y="326.62" width="40" height="49.48" fill="#ffaf28" stroke="#000" stroke-width="1.2"/>
<rect x="956.5" y="376.10" width="40" height="49.48" fill="#ff8c00" stroke="#000" stroke-width="1.2"/>
<rect x="956.5" y="425.58" width="40" height="49.48" fill="#ff3060" stroke="#000" stroke-width="1.2"/>
<rect x="956.5" y="475.06" width="40" height="49.48" fill="#ff0000" stroke="#000" stroke-width="1.2"/>
<rect x="956.5" y="524.54" width="40" height="49.48" fill="#c8147a" stroke="#000" stroke-width="1.2"/>
<rect x="956.5" y="574.02" width="40" height="49.48" fill="#b03060" stroke="#000" stroke-width="1.2"/>
<rect x="956.5" y="623.50" width="40" height="49.48" fill="#9932cc" stroke="#000" stroke-width="1.2"/>
<rect x="956.5" y="672.98" width="40" height="50.02" fill="#8a2be2" stroke="#000" stroke-width="1.2"/>
<text x="1001.5" y="187.0" style="font-family:&quot;Liberation Serif&quot;,&quot;Noto Serif CJK SC&quot;,serif;font-size:25px" fill="#000">10</text>
<text x="1001.5" y="236.5" style="font-family:&quot;Liberation Serif&quot;,&quot;Noto Serif CJK SC&quot;,serif;font-size:25px" fill="#000">8</text>
<text x="1001.5" y="285.9" style="font-family:&quot;Liberation Serif&quot;,&quot;Noto Serif CJK SC&quot;,serif;font-size:25px" fill="#000">6</text>
<text x="1001.5" y="335.4" style="font-family:&quot;Liberation Serif&quot;,&quot;Noto Serif CJK SC&quot;,serif;font-size:25px" fill="#000">4</text>
<text x="1001.5" y="384.9" style="font-family:&quot;Liberation Serif&quot;,&quot;Noto Serif CJK SC&quot;,serif;font-size:25px" fill="#000">2</text>
<text x="1001.5" y="434.4" style="font-family:&quot;Liberation Serif&quot;,&quot;Noto Serif CJK SC&quot;,serif;font-size:25px" fill="#000">1</text>
<text x="1001.5" y="483.9" style="font-family:&quot;Liberation Serif&quot;,&quot;Noto Serif CJK SC&quot;,serif;font-size:25px" fill="#000">0.8</text>
<text x="1001.5" y="533.3" style="font-family:&quot;Liberation Serif&quot;,&quot;Noto Serif CJK SC&quot;,serif;font-size:25px" fill="#000">0.6</text>
<text x="1001.5" y="582.8" style="font-family:&quot;Liberation Serif&quot;,&quot;Noto Serif CJK SC&quot;,serif;font-size:25px" fill="#000">0.4</text>
<text x="1001.5" y="632.3" style="font-family:&quot;Liberation Serif&quot;,&quot;Noto Serif CJK SC&quot;,serif;font-size:25px" fill="#000">0.2</text>
<text x="1001.5" y="681.8" style="font-family:&quot;Liberation Serif&quot;,&quot;Noto Serif CJK SC&quot;,serif;font-size:25px" fill="#000">0.1</text>
<text x="939.8" y="107.7" style="font-family:&quot;Liberation Serif&quot;,&quot;Noto Serif CJK SC&quot;,serif;font-size:23px" fill="#000" textLength="53.5" lengthAdjust="spacingAndGlyphs">(km)</text>
<text x="170.70000000000002" y="34.4" style="font-family:&quot;Liberation Serif&quot;,&quot;Noto Serif CJK SC&quot;,serif;font-size:26px" fill="#000" textLength="55.5" lengthAdjust="spacingAndGlyphs">2024</text>
<text x="228.6" y="34.4" style="font-family:&quot;Noto Serif CJK SC&quot;,&quot;Liberation Serif&quot;,serif;font-size:25px;font-weight:300" fill="#000" textLength="21.9" lengthAdjust="spacingAndGlyphs">年</text>
<text x="252.0" y="34.4" style="font-family:&quot;Liberation Serif&quot;,&quot;Noto Serif CJK SC&quot;,serif;font-size:26px" fill="#000" textLength="25.1" lengthAdjust="spacingAndGlyphs">10</text>
<text x="281.4" y="34.4" style="font-family:&quot;Noto Serif CJK SC&quot;,&quot;Liberation Serif&quot;,serif;font-size:25px;font-weight:300" fill="#000" textLength="17.2" lengthAdjust="spacingAndGlyphs">月</text>
<text x="305.6" y="34.4" style="font-family:&quot;Liberation Serif&quot;,&quot;Noto Serif CJK SC&quot;,serif;font-size:26px" fill="#000" textLength="27.5" lengthAdjust="spacingAndGlyphs">24</text>
<text x="335.0" y="29.8" style="font-family:&quot;Noto Serif CJK SC&quot;,&quot;Liberation Serif&quot;,serif;font-size:21px" fill="#000">日</text>
<text x="357.0" y="34.4" style="font-family:&quot;Liberation Serif&quot;,&quot;Noto Serif CJK SC&quot;,serif;font-size:26px" fill="#000" textLength="126.0" lengthAdjust="spacingAndGlyphs">WRF/cmaq</text>
<text x="483.6" y="34.4" style="font-family:&quot;Noto Serif CJK SC&quot;,&quot;Liberation Serif&quot;,serif;font-size:25px;font-weight:300" fill="#000" textLength="43.7" lengthAdjust="spacingAndGlyphs">模式</text>
<text x="531.0999999999999" y="34.4" style="font-family:&quot;Liberation Serif&quot;,&quot;Noto Serif CJK SC&quot;,serif;font-size:26px" fill="#000" textLength="65.1" lengthAdjust="spacingAndGlyphs">12km</text>
<text x="597.7" y="34.4" style="font-family:&quot;Noto Serif CJK SC&quot;,&quot;Liberation Serif&quot;,serif;font-size:25px;font-weight:300" fill="#000" textLength="90.0" lengthAdjust="spacingAndGlyphs">预报产品</text>
<text x="692.0" y="34.4" style="font-family:&quot;Liberation Serif&quot;,&quot;Noto Serif CJK SC&quot;,serif;font-size:26px" fill="#000">:</text>
<text x="701.8" y="34.4" style="font-family:&quot;Liberation Serif&quot;,&quot;Noto Serif CJK SC&quot;,serif;font-size:26px" fill="#000" textLength="25.4" lengthAdjust="spacingAndGlyphs">10</text>
<text x="731" y="34.4" style="font-family:&quot;Noto Serif CJK SC&quot;,&quot;Liberation Serif&quot;,serif;font-size:25px;font-weight:300" fill="#000" textLength="18.0" lengthAdjust="spacingAndGlyphs">月</text>
<text x="754.8" y="34.4" style="font-family:&quot;Liberation Serif&quot;,&quot;Noto Serif CJK SC&quot;,serif;font-size:26px" fill="#000" textLength="28.4" lengthAdjust="spacingAndGlyphs">24</text>
<text x="784.4" y="29.8" style="font-family:&quot;Noto Serif CJK SC&quot;,&quot;Liberation Serif&quot;,serif;font-size:21px" fill="#000">日</text>
<text x="805.8" y="34.4" style="font-family:&quot;Liberation Serif&quot;,&quot;Noto Serif CJK SC&quot;,serif;font-size:26px" fill="#000" textLength="27.4" lengthAdjust="spacingAndGlyphs">23</text>
<text x="837" y="34.4" style="font-family:&quot;Noto Serif CJK SC&quot;,&quot;Liberation Serif&quot;,serif;font-size:25px;font-weight:300" fill="#000" textLength="19.0" lengthAdjust="spacingAndGlyphs">时</text>
<text x="869.5" y="33.9" style="font-family:&quot;Liberation Serif&quot;,&quot;Noto Serif CJK SC&quot;,serif;font-size:24px" fill="#ff2020" textLength="42" lengthAdjust="spacingAndGlyphs">VIS</text>
<text x="359.5" y="809" style="font-family:&quot;Noto Serif CJK SC&quot;,&quot;Liberation Serif&quot;,serif;font-size:21px;font-weight:300" fill="#000" textLength="172" lengthAdjust="spacingAndGlyphs">版权所有: 南京大学</text>
<line x1="534.5" y1="788" x2="534.5" y2="817.5" stroke="#000" stroke-width="1.3"/>
<text x="545" y="809" style="font-family:&quot;Noto Serif CJK SC&quot;,&quot;Liberation Serif&quot;,serif;font-size:21px;font-weight:300" fill="#000" textLength="196.5" lengthAdjust="spacingAndGlyphs">南京创蓝科技有限公司</text>
</svg>
</body></html>
